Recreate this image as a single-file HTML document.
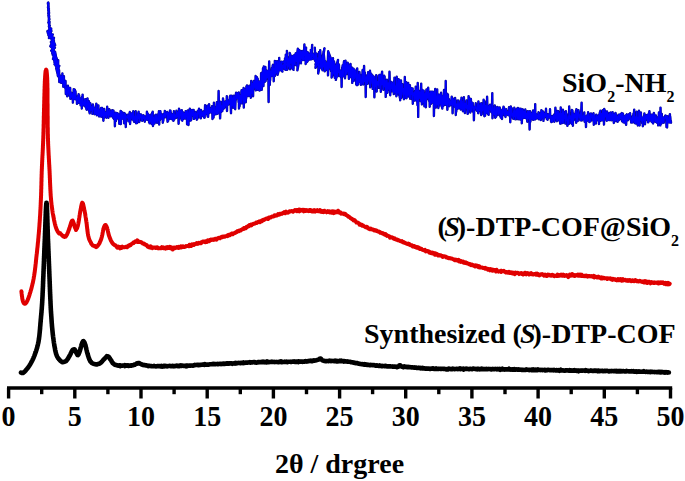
<!DOCTYPE html>
<html><head><meta charset="utf-8"><style>
html,body{margin:0;padding:0;background:#fff;}
body{width:685px;height:481px;overflow:hidden;}
svg{display:block;}
</style></head><body>
<svg width="685" height="481" viewBox="0 0 685 481">
<rect width="685" height="481" fill="#fff"/>
<g stroke="#000" stroke-width="3.4" stroke-linecap="butt" fill="none">
<line x1="7" y1="388" x2="672.2" y2="388"/>
<line x1="8.6" y1="388" x2="8.6" y2="398.5"/><line x1="41.7" y1="388" x2="41.7" y2="394.2"/><line x1="74.8" y1="388" x2="74.8" y2="398.5"/><line x1="107.9" y1="388" x2="107.9" y2="394.2"/><line x1="141.0" y1="388" x2="141.0" y2="398.5"/><line x1="174.1" y1="388" x2="174.1" y2="394.2"/><line x1="207.2" y1="388" x2="207.2" y2="398.5"/><line x1="240.3" y1="388" x2="240.3" y2="394.2"/><line x1="273.4" y1="388" x2="273.4" y2="398.5"/><line x1="306.5" y1="388" x2="306.5" y2="394.2"/><line x1="339.6" y1="388" x2="339.6" y2="398.5"/><line x1="372.6" y1="388" x2="372.6" y2="394.2"/><line x1="405.7" y1="388" x2="405.7" y2="398.5"/><line x1="438.8" y1="388" x2="438.8" y2="394.2"/><line x1="471.9" y1="388" x2="471.9" y2="398.5"/><line x1="505.0" y1="388" x2="505.0" y2="394.2"/><line x1="538.1" y1="388" x2="538.1" y2="398.5"/><line x1="571.2" y1="388" x2="571.2" y2="394.2"/><line x1="604.3" y1="388" x2="604.3" y2="398.5"/><line x1="637.4" y1="388" x2="637.4" y2="394.2"/><line x1="670.5" y1="388" x2="670.5" y2="398.5"/>
</g>
<g font-family="'Liberation Serif', serif" font-weight="bold" font-size="28" text-anchor="middle" fill="#000">
<text transform="translate(8.6 426.0) scale(1 1.035)">0</text><text transform="translate(74.8 426.0) scale(1 1.035)">5</text><text transform="translate(141.0 426.0) scale(1 1.035)">10</text><text transform="translate(207.2 426.0) scale(1 1.035)">15</text><text transform="translate(273.4 426.0) scale(1 1.035)">20</text><text transform="translate(339.6 426.0) scale(1 1.035)">25</text><text transform="translate(405.7 426.0) scale(1 1.035)">30</text><text transform="translate(471.9 426.0) scale(1 1.035)">35</text><text transform="translate(538.1 426.0) scale(1 1.035)">40</text><text transform="translate(604.3 426.0) scale(1 1.035)">45</text><text transform="translate(670.5 426.0) scale(1 1.035)">50</text>
</g>
<text x="339.5" y="472.6" font-family="'Liberation Serif', serif" font-weight="bold" font-size="28" text-anchor="middle">2θ / drgree</text>
<defs><polyline id="bl" points="48.2,2.8 48.2,2.5 48.1,2.7 48.6,3.1 48.6,3.2 48.4,3.3 47.9,3.8 48.5,3.8 47.9,2.9 48.1,3.7 48.4,4.2 48.5,4.1 48.5,4.8 48.2,5.7 48.5,5.6 48.3,4.9 48.3,5.5 48.6,5.9 48.3,5.5 48.3,6.9 48.3,6.7 48.6,6.0 48.5,7.7 48.0,7.2 48.5,7.2 48.6,7.8 48.2,8.6 48.7,8.9 48.9,8.9 48.6,8.4 48.7,9.0 48.5,8.9 48.3,9.6 48.9,9.1 48.3,10.6 49.0,11.0 48.2,9.8 48.7,11.0 48.4,12.1 48.9,12.0 48.7,12.4 49.1,12.8 48.8,13.1 48.3,13.7 49.0,13.6 48.3,13.3 49.0,13.0 48.7,14.7 48.4,15.3 48.9,14.7 48.9,15.3 48.8,15.8 48.7,15.3 49.1,15.7 48.6,16.4 49.2,16.0 48.5,16.4 48.8,16.6 49.2,16.5 49.2,16.6 48.7,17.8 49.2,18.2 49.0,18.1 48.9,18.6 48.9,18.7 49.1,18.8 49.1,19.4 49.4,19.5 48.8,19.4 48.9,20.4 48.9,20.4 49.4,19.2 48.7,20.8 49.1,21.1 48.9,21.6 49.1,21.3 49.6,22.0 48.9,22.0 49.0,22.3 48.3,22.4 49.3,22.3 49.0,23.6 49.3,24.2 48.6,23.5 49.0,24.2 49.4,22.9 49.4,23.7 49.3,24.0 49.2,25.6 49.1,25.3 49.3,25.5 49.1,26.5 49.4,25.8 49.9,25.6 49.4,26.3 49.2,27.0 49.3,27.2 48.9,26.4 49.4,26.9 49.0,26.8 49.6,28.2 49.7,27.5 49.3,27.6 49.5,29.2 49.1,29.4 49.6,28.7 48.9,29.7 49.4,29.1 49.6,29.9 51.2,28.5 50.8,32.6 51.3,30.4 48.9,32.4 49.9,31.4 51.4,31.0 47.4,31.1 47.9,33.1 50.4,31.2 50.1,33.6 50.3,34.5 50.2,34.3 52.0,35.4 49.7,34.5 48.4,31.7 48.4,35.2 49.3,33.8 50.5,33.9 50.1,34.6 52.8,34.5 51.5,36.2 50.7,33.0 50.4,36.8 49.3,34.5 52.2,36.9 51.2,37.2 51.4,34.4 49.6,35.5 52.3,35.8 50.4,35.7 49.7,37.0 50.1,37.9 48.9,38.1 50.8,34.9 52.3,37.7 49.1,37.0 51.9,37.9 52.5,40.0 52.4,39.6 53.2,40.4 52.3,36.5 52.8,41.9 51.5,39.5 54.0,37.8 52.4,44.4 50.9,42.0 54.0,41.1 52.6,42.9 51.0,41.7 52.4,43.3 52.1,42.0 51.0,42.1 53.2,43.0 51.3,41.9 55.2,45.1 53.0,39.8 53.0,44.6 54.2,44.8 52.3,45.2 50.3,46.2 52.8,43.8 53.9,47.8 51.0,44.3 52.9,45.8 52.1,44.3 54.9,47.6 51.3,44.3 54.6,48.1 54.7,48.1 51.8,47.5 50.4,46.3 52.8,48.4 52.1,47.7 53.4,48.7 53.7,48.6 52.6,49.7 53.1,47.5 52.4,49.0 53.0,49.5 53.1,49.7 53.0,47.8 53.7,51.5 53.7,49.8 53.8,48.9 51.2,50.6 52.4,51.9 52.2,47.1 52.3,53.7 53.1,49.5 52.7,52.6 54.2,52.4 55.3,53.4 53.7,53.6 55.6,54.5 55.0,51.6 53.7,54.5 53.6,55.2 54.6,55.2 53.8,57.9 55.4,53.9 54.2,58.4 53.8,56.0 55.3,54.9 52.9,55.4 54.7,57.1 55.2,55.6 55.3,56.7 54.7,56.2 54.2,57.3 53.4,55.6 54.6,54.6 54.1,54.0 53.9,58.1 55.4,57.5 54.5,55.7 56.8,58.8 56.1,57.0 54.7,55.8 55.9,60.2 53.0,59.0 55.8,56.7 53.2,58.0 54.5,57.7 55.3,60.5 56.0,61.4 57.1,62.3 54.0,60.1 54.4,59.5 55.5,61.4 56.2,59.3 54.3,61.9 55.5,61.7 55.8,61.3 56.7,63.2 55.8,61.9 55.8,55.1 55.0,63.6 54.5,64.3 56.4,59.9 56.0,63.3 56.8,66.3 56.3,62.2 56.3,64.8 57.3,66.1 55.8,61.4 56.2,63.5 55.5,65.6 56.2,66.5 57.4,65.2 59.4,65.8 58.1,67.3 58.2,60.1 56.2,68.2 57.8,74.8 57.5,71.9 58.1,71.1 57.9,68.1 57.9,65.6 58.8,66.1 57.8,75.7 57.3,69.7 58.9,70.0 57.7,69.6 57.8,72.0 57.9,70.8 57.9,70.8 58.0,76.2 58.1,76.2 58.1,71.0 58.2,74.8 58.3,69.9 58.3,71.0 58.4,74.1 58.5,73.4 58.6,75.3 58.6,72.6 58.7,74.8 58.8,76.7 58.8,75.8 58.9,70.5 59.0,70.1 59.0,72.2 59.1,70.3 59.2,76.8 59.3,82.0 59.3,77.7 59.4,74.5 59.5,78.1 59.5,75.9 59.6,80.8 59.7,75.3 59.9,78.2 60.0,80.3 60.2,75.7 60.3,81.2 60.5,78.1 60.6,80.7 60.8,81.3 60.9,78.6 61.1,82.9 61.2,76.5 61.4,80.9 61.5,78.9 61.7,80.6 61.8,82.3 62.0,82.5 62.1,80.6 62.3,82.6 62.4,73.5 62.6,83.1 62.7,81.6 62.9,81.2 63.0,77.3 63.2,82.7 63.3,86.7 63.4,79.4 63.6,82.1 63.7,83.8 63.8,79.6 63.9,76.2 64.0,83.3 64.1,79.9 64.2,84.2 64.4,81.5 64.5,83.3 64.6,85.5 64.7,83.8 64.8,82.0 64.9,82.2 65.0,83.5 65.1,87.7 65.3,85.6 65.4,81.8 65.5,81.0 65.6,86.3 65.8,94.0 65.9,90.1 66.0,87.3 66.2,86.9 66.3,91.7 66.5,90.2 66.6,88.3 66.8,89.7 66.9,93.3 67.1,90.6 67.2,96.2 67.3,89.0 67.5,91.1 67.6,92.5 67.8,88.3 67.9,85.7 68.1,92.0 68.2,88.3 68.4,91.5 68.5,91.4 68.7,90.9 68.9,94.4 69.0,87.8 69.2,90.3 69.4,93.1 69.5,96.0 69.7,92.7 69.9,91.1 70.0,95.1 70.2,88.0 70.4,98.7 70.5,93.6 70.7,95.7 70.9,92.4 71.1,93.8 71.3,95.3 71.4,92.8 71.6,97.0 71.8,94.7 72.0,95.1 72.2,94.9 72.3,94.5 72.5,99.8 72.7,93.9 72.9,102.6 73.1,94.8 73.3,92.9 73.5,96.1 73.7,89.1 73.9,98.1 74.1,96.4 74.4,99.1 74.6,95.5 74.8,89.6 75.0,96.9 75.2,96.3 75.5,91.3 75.7,95.8 75.9,99.5 76.1,99.0 76.4,98.3 76.6,98.2 76.8,97.9 77.0,103.9 77.3,97.1 77.5,99.1 77.7,98.8 77.9,96.1 78.1,99.1 78.4,96.2 78.6,94.2 78.8,102.9 79.0,102.8 79.2,95.5 79.4,102.6 79.6,99.3 79.8,101.1 80.0,98.1 80.2,102.3 80.4,100.5 80.6,105.4 80.8,102.9 81.1,102.4 81.3,101.2 81.5,100.2 81.7,103.8 81.8,108.5 82.0,97.0 82.2,105.7 82.4,102.8 82.6,94.6 82.8,100.4 83.0,100.6 83.2,102.9 83.4,104.6 83.5,102.7 83.7,103.2 83.9,104.0 84.1,105.5 84.3,102.2 84.5,103.1 84.7,99.5 84.8,101.4 85.0,102.9 85.2,101.2 85.4,106.7 85.6,103.6 85.8,99.3 86.0,107.7 86.2,106.4 86.5,109.5 86.7,109.7 86.9,103.4 87.1,107.9 87.3,103.3 87.5,98.4 87.8,104.5 88.0,102.2 88.2,104.1 88.4,105.5 88.6,109.9 88.9,101.1 89.1,106.9 89.3,111.8 89.5,112.0 89.7,113.4 90.0,109.3 90.2,103.1 90.4,103.5 90.6,108.0 90.8,110.6 91.0,108.5 91.3,109.7 91.5,106.7 91.7,109.0 91.9,108.8 92.2,107.7 92.4,113.9 92.6,109.8 92.9,104.5 93.1,107.4 93.3,106.0 93.6,107.3 93.8,108.3 94.0,109.3 94.3,109.6 94.5,114.3 94.7,110.8 94.9,112.5 95.2,108.3 95.4,110.1 95.6,113.8 95.9,111.7 96.1,110.5 96.3,103.6 96.6,104.7 96.8,115.2 97.0,115.1 97.3,110.2 97.5,113.9 97.7,110.1 98.0,113.3 98.2,115.2 98.4,105.4 98.6,114.9 98.9,110.1 99.1,116.5 99.3,112.9 99.5,110.2 99.7,111.0 100.0,112.2 100.2,115.7 100.4,109.8 100.6,112.0 100.9,110.3 101.1,108.0 101.3,116.7 101.6,113.1 101.8,111.2 102.1,108.0 102.3,115.6 102.6,109.9 102.8,111.2 103.1,114.8 103.4,120.7 103.6,112.7 103.8,117.1 104.0,111.6 104.2,109.0 104.5,117.5 104.7,116.5 104.9,114.5 105.1,112.3 105.3,113.5 105.6,113.4 105.8,112.1 106.0,115.2 106.2,114.8 106.5,117.7 106.7,115.8 106.9,113.0 107.2,106.8 107.4,109.3 107.7,114.0 107.9,114.6 108.2,111.6 108.4,117.8 108.7,114.1 108.9,112.1 109.2,109.1 109.5,113.9 109.7,114.7 110.0,114.2 110.3,116.0 110.6,116.3 110.8,111.4 111.1,110.6 111.4,114.7 111.7,115.9 111.9,115.0 112.1,114.7 112.4,110.3 112.6,116.2 112.8,116.9 113.0,117.6 113.3,115.2 113.5,110.7 113.7,114.9 114.0,119.1 114.2,113.0 114.4,115.1 114.7,116.7 114.9,126.3 115.2,115.9 115.4,120.5 115.7,112.7 115.9,121.0 116.2,119.1 116.4,113.3 116.7,119.0 117.0,115.2 117.2,117.7 117.5,113.2 117.7,115.0 118.0,117.7 118.3,118.4 118.5,114.2 118.8,118.3 119.0,114.7 119.3,123.9 119.6,117.1 119.8,115.9 120.1,114.9 120.3,118.3 120.6,111.0 120.9,124.1 121.1,111.2 121.4,116.5 121.6,118.7 121.9,117.8 122.1,112.2 122.4,115.9 122.6,118.6 122.9,117.0 123.2,118.8 123.4,116.1 123.7,118.8 123.9,113.0 124.2,123.4 124.4,115.9 124.7,115.9 125.0,116.9 125.2,113.8 125.5,117.8 125.8,127.1 126.0,116.6 126.3,116.7 126.6,116.9 126.8,116.6 127.1,117.2 127.4,114.9 127.7,117.9 127.9,114.7 128.2,117.8 128.5,121.4 128.8,116.0 129.0,115.9 129.3,117.9 129.6,112.8 129.8,112.0 130.1,124.0 130.4,119.0 130.6,117.3 130.9,114.1 131.1,117.1 131.4,113.5 131.6,118.0 131.9,115.5 132.1,115.0 132.4,119.6 132.6,113.5 132.9,112.5 133.1,119.2 133.3,111.2 133.5,118.8 133.8,115.9 134.0,121.8 134.2,118.7 134.4,119.3 134.6,118.9 134.8,119.7 135.0,117.3 135.4,116.2 135.7,111.2 136.1,123.4 136.4,115.9 136.7,118.5 136.9,118.6 137.2,123.0 137.5,119.1 137.7,113.5 138.0,116.4 138.2,118.4 138.4,117.7 138.6,111.6 138.9,118.1 139.1,115.1 139.3,122.0 139.5,114.7 139.7,116.5 140.0,114.5 140.2,117.5 140.4,117.5 140.7,117.5 140.9,114.4 141.1,114.5 141.4,119.7 141.6,120.3 141.8,117.8 142.1,116.0 142.3,120.9 142.5,115.6 142.7,118.3 142.9,117.4 143.1,118.6 143.3,118.1 143.5,115.3 143.8,115.8 144.0,118.5 144.3,117.7 144.5,116.2 144.8,121.7 145.0,118.4 145.3,118.5 145.7,119.2 146.0,118.0 146.3,116.3 146.7,118.5 146.9,111.8 147.1,119.8 147.3,116.0 147.5,119.8 147.7,113.5 147.9,116.9 148.2,118.0 148.4,115.2 148.6,114.6 148.9,117.7 149.1,122.4 149.3,115.2 149.6,123.4 149.8,118.6 150.1,121.9 150.3,117.9 150.6,116.3 150.9,115.5 151.1,119.0 151.4,114.1 151.6,123.8 151.9,124.1 152.2,112.8 152.5,120.6 152.7,111.8 153.0,126.0 153.3,117.1 153.6,119.8 153.8,120.1 154.1,122.1 154.4,123.6 154.7,121.5 154.9,115.7 155.2,122.4 155.5,114.9 155.8,116.9 156.0,114.7 156.3,120.9 156.6,115.5 156.8,120.3 157.1,122.9 157.4,120.2 157.6,120.7 157.9,118.2 158.1,117.7 158.4,113.8 158.7,116.2 158.9,111.2 159.2,124.5 159.4,117.3 159.7,117.2 159.9,120.2 160.2,116.6 160.4,111.3 160.7,118.7 161.0,115.7 161.2,115.6 161.5,113.9 161.7,118.1 162.0,114.6 162.2,118.7 162.5,115.9 162.8,122.8 163.0,116.9 163.3,120.8 163.5,118.0 163.8,114.6 164.0,113.6 164.3,115.0 164.6,115.2 164.8,110.9 165.1,116.9 165.3,117.3 165.6,113.6 165.8,114.2 166.1,113.7 166.3,114.2 166.6,113.1 166.8,114.2 167.1,111.9 167.3,118.1 167.6,121.8 167.8,117.9 168.1,112.9 168.3,120.7 168.6,116.5 168.8,119.1 169.0,112.6 169.3,118.3 169.5,115.1 169.8,116.1 170.0,110.4 170.3,113.3 170.5,110.8 170.8,118.9 171.1,113.2 171.3,116.7 171.6,116.6 171.9,119.2 172.1,115.0 172.4,114.7 172.6,118.0 172.9,114.0 173.1,116.2 173.4,120.9 173.7,117.2 173.9,111.2 174.2,119.5 174.4,118.0 174.7,117.9 174.9,114.9 175.2,116.3 175.4,115.8 175.6,118.0 175.9,116.9 176.1,117.9 176.4,110.8 176.6,112.7 176.9,114.1 177.1,116.4 177.4,112.8 177.6,112.9 177.8,116.9 178.1,116.3 178.3,111.6 178.6,123.7 178.8,114.6 179.0,108.8 179.3,110.2 179.5,114.1 179.8,118.2 180.0,113.6 180.3,111.4 180.5,115.1 180.8,115.3 181.0,110.4 181.3,112.2 181.6,120.0 181.8,110.2 182.1,114.1 182.3,120.7 182.6,117.3 182.9,112.3 183.1,115.4 183.4,112.9 183.6,115.2 183.9,118.8 184.1,115.4 184.4,116.9 184.6,113.4 184.9,115.0 185.1,115.1 185.4,118.5 185.6,111.2 185.9,114.1 186.1,115.2 186.4,116.3 186.6,111.7 186.9,113.3 187.1,124.3 187.4,117.2 187.6,110.8 187.8,110.4 188.1,112.3 188.3,119.7 188.5,125.1 188.7,113.9 189.0,113.8 189.2,119.4 189.5,114.8 189.8,108.6 190.0,116.1 190.3,114.6 190.6,120.6 190.8,115.2 191.1,120.2 191.4,110.1 191.6,112.7 191.9,114.8 192.1,110.0 192.4,112.2 192.6,111.3 192.8,115.9 193.1,115.9 193.3,113.6 193.6,109.9 193.8,118.9 194.1,118.8 194.3,115.2 194.5,114.7 194.8,113.5 195.0,117.8 195.3,111.9 195.5,113.6 195.8,112.1 196.0,115.9 196.2,115.9 196.5,116.2 196.8,119.7 197.0,113.6 197.3,114.0 197.5,118.8 197.8,110.8 198.0,111.9 198.3,113.5 198.5,110.8 198.8,110.6 199.0,108.8 199.3,113.5 199.5,117.3 199.8,114.5 200.0,114.4 200.3,111.0 200.5,111.9 200.8,118.4 201.0,109.9 201.3,112.7 201.5,113.5 201.8,112.3 202.0,113.2 202.3,115.7 202.5,113.1 202.8,115.0 203.0,113.4 203.3,111.5 203.5,116.8 203.8,113.8 204.1,117.6 204.3,112.5 204.6,117.8 204.8,111.9 205.1,105.3 205.3,114.5 205.6,113.0 205.8,113.2 206.1,112.0 206.3,113.8 206.6,108.9 206.8,111.5 207.1,109.9 207.3,105.6 207.6,116.2 207.8,113.4 208.1,116.9 208.3,113.2 208.6,113.7 208.8,105.8 209.1,104.3 209.3,112.0 209.6,112.5 209.8,108.0 210.1,110.5 210.3,110.5 210.6,108.9 210.8,110.4 211.1,112.5 211.3,108.2 211.6,110.4 211.8,109.1 212.0,106.1 212.3,110.2 212.5,119.0 212.7,111.1 213.0,111.9 213.2,111.3 213.5,117.6 213.7,112.6 213.9,102.7 214.2,106.7 214.4,114.9 214.6,113.4 214.9,114.4 215.1,111.8 215.3,111.4 215.6,111.3 215.8,109.9 216.0,107.0 216.3,111.9 216.5,114.1 216.8,102.2 217.0,111.4 217.2,113.9 217.5,105.7 217.7,105.9 217.9,111.1 218.2,113.4 218.4,104.1 218.6,91.0 218.9,106.4 219.1,102.8 219.4,109.7 219.6,110.8 219.9,108.8 220.1,118.4 220.3,114.6 220.6,102.4 220.8,101.8 221.1,112.1 221.3,107.9 221.6,106.0 221.8,111.3 222.1,106.6 222.3,111.1 222.5,105.7 222.8,109.6 223.0,98.4 223.3,100.9 223.5,101.5 223.8,107.1 224.0,108.2 224.2,108.3 224.5,105.9 224.7,107.5 225.0,101.8 225.2,102.4 225.5,104.4 225.7,101.2 225.9,102.0 226.1,105.9 226.4,101.2 226.6,104.7 226.8,96.3 227.0,111.1 227.2,101.4 227.5,104.7 227.7,104.7 227.9,100.1 228.1,102.8 228.4,104.6 228.6,103.7 228.8,101.9 229.0,103.5 229.2,101.2 229.5,100.8 229.7,98.2 229.9,96.5 230.1,102.2 230.3,95.8 230.6,103.8 230.8,108.4 231.0,113.2 231.2,98.1 231.5,99.7 231.7,95.7 231.9,105.5 232.1,98.4 232.3,104.7 232.6,100.4 232.8,105.3 233.0,98.0 233.2,107.7 233.4,98.4 233.7,101.7 233.9,95.7 234.1,95.9 234.3,96.7 234.5,107.6 234.8,101.4 235.0,104.3 235.2,109.3 235.5,101.3 235.7,100.3 235.9,94.1 236.1,92.8 236.4,98.4 236.6,95.7 236.8,96.6 237.0,96.7 237.3,98.2 237.5,93.1 237.7,96.1 237.9,93.4 238.1,98.4 238.3,94.9 238.6,102.2 238.8,92.5 239.0,108.5 239.2,104.5 239.4,103.2 239.6,106.3 239.8,96.3 239.9,95.4 240.1,101.8 240.3,99.1 240.5,102.1 240.8,102.5 241.0,95.5 241.2,96.7 241.4,91.9 241.6,90.2 241.8,103.4 242.0,96.9 242.2,100.0 242.4,91.4 242.6,90.2 242.7,92.5 242.9,95.5 243.1,95.8 243.3,95.3 243.4,96.6 243.6,88.0 243.8,107.6 244.0,93.9 244.2,91.5 244.4,95.2 244.6,101.8 244.8,89.2 245.0,91.3 245.2,93.4 245.4,97.0 245.6,90.8 245.8,102.3 246.0,94.7 246.2,98.6 246.4,86.4 246.6,96.7 246.8,89.9 247.0,85.4 247.2,95.8 247.5,94.7 247.7,86.9 247.9,92.7 248.1,94.4 248.3,88.8 248.5,96.1 248.8,86.4 249.0,95.6 249.2,91.8 249.4,85.7 249.7,88.7 249.9,95.5 250.1,87.6 250.3,91.3 250.6,86.8 250.8,97.7 251.0,93.0 251.2,80.9 251.4,87.4 251.6,83.5 251.7,93.3 251.9,86.0 252.1,92.7 252.3,93.0 252.5,83.4 252.7,84.7 252.9,89.2 253.1,96.3 253.3,83.0 253.4,85.5 253.6,82.9 253.8,80.9 254.0,88.5 254.2,87.3 254.4,84.4 254.6,83.5 254.8,81.2 255.0,85.1 255.2,85.3 255.4,87.2 255.6,76.0 255.8,90.4 256.0,85.9 256.2,82.1 256.3,78.5 256.5,77.4 256.7,79.6 256.9,77.2 257.1,79.3 257.3,88.6 257.5,89.7 257.7,78.8 257.9,87.7 258.1,83.2 258.3,81.4 258.6,83.1 258.8,86.0 259.0,90.2 259.2,81.6 259.4,86.7 259.6,90.6 259.8,81.4 260.0,90.3 260.3,83.6 260.5,81.0 260.7,83.1 260.9,87.5 261.1,73.1 261.3,74.1 261.5,85.1 261.7,89.9 261.9,86.1 262.1,77.0 262.4,72.3 262.6,78.0 262.8,79.8 263.0,68.2 263.2,78.3 263.4,86.1 263.6,80.8 263.8,66.5 264.0,74.9 264.2,78.4 264.4,79.9 264.6,79.3 264.8,81.9 265.0,76.1 265.2,74.5 265.4,66.9 265.6,81.1 265.8,79.2 266.0,75.3 266.2,79.3 266.4,71.2 266.6,73.4 266.8,70.8 267.0,77.5 267.2,74.1 267.4,76.5 267.6,77.5 267.8,74.2 268.0,70.6 268.2,71.0 268.4,76.2 268.6,102.0 268.8,76.0 269.0,69.8 269.2,61.5 269.4,69.4 269.6,74.7 269.8,84.9 270.0,74.6 270.2,80.3 270.4,70.9 270.6,74.2 270.7,74.2 270.9,72.3 271.1,76.0 271.3,75.4 271.5,71.4 271.7,72.3 271.9,68.0 272.0,70.2 272.2,76.1 272.4,73.5 272.6,66.0 272.8,65.2 273.0,64.8 273.2,76.3 273.3,69.0 273.5,68.7 273.7,81.3 273.9,73.0 274.1,74.6 274.5,70.7 273.8,71.0 274.6,69.3 276.0,61.5 275.3,64.4 274.9,76.0 274.3,68.5 275.0,73.2 274.8,60.9 276.5,66.9 275.9,73.3 275.5,66.5 276.8,69.9 276.3,72.7 279.4,65.8 279.2,57.9 279.0,65.8 277.8,65.7 277.2,61.3 277.7,73.0 279.5,65.3 278.0,63.5 277.5,74.9 279.7,67.0 278.7,61.6 280.8,69.8 278.6,70.6 278.7,68.9 279.0,63.9 280.8,67.7 281.6,61.7 282.4,71.6 280.9,67.4 280.3,64.5 279.9,65.5 281.8,71.1 282.8,68.6 281.6,63.7 281.8,65.6 280.4,68.1 281.0,62.0 282.9,61.9 284.9,63.7 285.0,69.4 283.1,65.8 285.2,62.3 284.2,61.2 284.4,62.0 284.6,68.2 286.3,64.1 285.2,67.3 285.0,58.4 286.7,58.9 286.7,58.7 287.9,58.2 287.1,69.8 285.4,69.7 285.8,54.6 287.7,65.9 286.9,50.9 287.3,61.1 287.2,61.1 286.0,59.7 290.0,69.3 288.0,58.8 289.0,66.9 289.6,56.5 289.2,62.4 290.8,67.2 290.1,67.2 289.3,68.6 289.5,63.2 291.2,57.1 289.7,53.0 290.8,60.8 290.5,63.2 288.9,60.7 291.4,59.5 292.4,68.7 291.3,56.1 291.4,60.8 292.9,56.3 293.6,55.4 293.6,62.0 293.5,69.9 292.9,59.0 293.9,63.7 292.2,60.9 293.1,62.4 295.6,59.6 294.2,60.1 291.4,62.7 295.4,59.8 294.6,55.6 295.1,64.5 295.4,65.0 293.0,56.6 296.3,58.5 294.5,55.4 297.8,52.5 295.6,53.3 296.3,61.2 297.8,48.8 298.9,55.3 297.0,65.6 297.8,52.1 297.4,54.4 297.3,56.2 299.5,59.2 297.4,70.4 298.0,58.0 299.3,60.9 299.2,59.4 302.0,57.7 298.9,58.7 299.4,55.4 300.7,58.6 300.5,61.0 300.8,51.0 302.2,55.3 302.8,53.9 302.3,58.4 299.1,50.0 301.0,63.3 300.5,61.0 303.9,59.1 303.7,54.5 303.2,57.8 303.9,60.0 303.5,53.6 303.4,58.7 302.5,51.0 304.0,54.2 304.4,44.5 304.6,55.6 306.1,47.7 305.2,59.0 306.3,62.4 307.1,52.0 306.9,55.3 305.6,64.0 306.1,53.0 306.6,53.0 308.3,58.7 309.0,58.9 307.1,61.9 307.3,54.9 308.1,57.3 309.8,54.4 309.1,57.1 307.7,52.2 309.0,59.2 309.9,59.6 309.8,55.4 310.5,52.9 308.9,56.0 309.0,55.3 310.0,55.2 311.0,54.1 310.8,49.9 311.7,53.9 312.2,44.9 311.2,59.2 309.7,56.5 312.6,58.7 311.2,59.3 313.2,53.8 314.1,58.1 313.5,56.3 314.3,58.9 315.2,60.6 313.6,57.5 315.5,56.9 315.2,61.0 314.8,47.8 315.4,59.6 315.7,55.1 317.1,58.0 315.4,55.3 316.7,53.6 315.5,67.9 318.2,63.5 318.5,61.4 315.5,64.2 318.8,60.9 315.7,64.4 319.5,56.4 318.4,62.3 318.4,63.8 318.8,61.9 319.1,51.9 318.2,73.5 319.8,65.0 321.0,66.9 320.6,56.2 320.2,50.1 320.2,63.4 318.4,60.2 321.8,65.5 320.1,56.4 319.3,54.8 322.1,69.3 320.5,66.3 322.4,57.7 324.5,48.3 322.4,61.3 324.9,68.8 325.3,61.1 324.1,67.0 323.9,62.5 323.3,59.1 322.4,70.2 323.5,51.6 324.5,61.2 324.6,70.0 324.5,60.5 324.1,61.7 324.6,62.9 328.7,64.0 324.6,71.3 326.7,66.2 326.8,66.3 326.9,69.2 327.5,69.0 326.1,62.8 326.1,67.4 328.0,60.9 328.0,75.4 328.9,58.0 327.7,66.3 328.0,65.3 329.5,65.1 327.3,67.0 328.6,64.3 328.3,57.4 327.8,62.3 328.2,51.3 330.9,58.7 329.1,66.7 327.5,70.6 329.5,67.5 330.0,66.0 330.9,64.7 329.1,57.9 331.2,71.5 330.9,67.5 331.9,67.4 333.0,58.2 332.5,64.5 332.1,61.5 331.8,60.8 331.6,77.5 334.8,65.9 334.0,61.5 330.5,57.7 333.8,73.1 333.8,61.8 333.8,62.0 332.7,65.7 334.0,63.1 333.7,62.8 335.1,73.8 334.8,77.9 333.5,68.9 334.2,67.0 335.8,70.5 337.1,65.5 334.8,67.4 336.6,65.1 337.5,76.4 335.2,70.4 338.0,59.9 337.4,68.0 335.9,75.3 337.8,67.1 338.3,72.4 338.9,72.3 338.7,64.2 338.1,70.4 335.8,79.9 339.0,64.8 339.2,71.8 339.5,74.4 339.7,76.1 339.9,70.7 340.2,75.0 340.4,73.6 340.6,70.8 340.9,76.5 341.1,77.4 341.4,71.1 341.6,87.0 341.9,72.7 342.2,68.2 342.4,67.3 342.7,65.1 342.9,65.7 343.2,76.4 343.5,65.6 343.7,63.8 344.0,61.3 344.2,65.7 344.5,69.8 344.8,66.5 345.0,78.3 345.3,74.5 345.5,60.7 345.8,71.3 346.0,63.1 346.3,68.3 346.5,66.6 346.8,74.1 347.0,65.6 347.3,71.7 347.5,71.2 347.7,62.8 348.0,63.9 348.2,69.0 348.5,72.2 348.7,73.8 348.9,78.9 349.2,76.4 349.4,66.5 349.6,65.5 349.8,69.2 350.1,67.9 350.3,76.7 350.5,63.9 350.8,72.4 351.0,73.0 351.2,72.9 351.4,77.5 351.7,68.0 351.9,71.6 352.1,67.8 352.3,82.9 352.5,73.8 352.8,79.8 353.0,70.4 353.2,78.1 353.4,68.6 353.7,80.9 353.9,73.1 354.1,74.1 354.3,69.5 354.5,78.2 354.8,76.1 355.0,71.2 355.2,70.7 355.5,72.3 355.7,76.4 356.0,74.1 356.2,84.5 356.5,80.6 356.7,80.1 357.0,85.3 357.2,68.4 357.5,75.7 357.7,77.9 358.0,84.6 358.2,76.3 358.4,79.6 358.7,80.5 358.9,74.3 359.2,82.0 359.4,71.9 359.7,75.1 359.9,74.7 360.2,76.7 360.4,82.4 360.7,82.1 360.9,84.9 361.2,81.2 361.4,83.3 361.7,80.9 361.9,77.3 362.2,74.4 362.4,75.9 362.6,70.0 362.9,79.7 363.1,84.5 363.3,84.3 363.6,72.9 363.8,76.3 364.1,65.9 364.3,77.5 364.5,81.4 364.8,72.4 365.0,81.7 365.2,80.3 365.5,79.1 365.7,97.0 366.0,82.0 366.2,76.9 366.4,81.9 366.7,79.3 366.9,77.9 367.2,75.1 367.4,83.7 367.6,82.9 367.9,79.9 368.1,72.1 368.3,74.6 368.6,78.4 368.8,74.7 369.1,76.6 369.3,80.3 369.5,81.4 369.8,84.3 370.0,70.8 370.2,87.3 370.5,84.6 370.7,76.8 371.0,78.7 371.2,73.7 371.5,78.1 371.7,76.7 372.0,81.2 372.2,83.4 372.5,75.4 372.7,88.9 373.0,77.6 373.2,78.3 373.5,76.4 373.7,79.5 373.9,80.9 374.2,77.1 374.4,97.3 374.7,80.5 374.9,86.3 375.2,83.2 375.4,81.3 375.7,86.4 375.9,81.8 376.2,75.3 376.4,87.5 376.7,91.6 376.9,81.1 377.2,83.5 377.4,82.4 377.6,83.1 377.8,84.3 378.1,81.6 378.3,85.1 378.5,82.4 378.7,75.8 379.0,87.9 379.2,76.9 379.4,74.9 379.6,75.0 379.9,80.0 380.1,77.4 380.3,78.2 380.5,75.0 380.8,91.8 381.0,78.3 381.2,84.5 381.4,76.5 381.6,84.8 381.9,73.4 382.1,71.6 382.3,80.8 382.5,84.1 382.8,79.8 383.0,85.2 383.2,88.6 383.4,89.8 383.7,79.9 383.9,85.8 384.1,75.7 384.3,86.4 384.6,76.5 384.8,86.7 385.0,80.8 385.2,84.7 385.5,84.3 385.7,96.9 386.0,90.5 386.2,80.8 386.4,86.2 386.7,88.9 386.9,79.7 387.2,83.6 387.4,92.8 387.6,86.4 387.9,83.3 388.1,88.1 388.3,83.0 388.6,83.6 388.8,88.5 389.1,89.7 389.3,83.1 389.5,71.8 389.8,85.6 390.0,89.3 390.2,95.3 390.5,91.4 390.7,84.7 391.0,85.2 391.2,88.4 391.4,82.0 391.7,86.4 391.9,85.9 392.2,85.3 392.4,91.4 392.6,85.9 392.9,83.0 393.1,91.3 393.3,82.8 393.6,87.4 393.8,94.1 394.1,81.3 394.3,87.7 394.5,77.6 394.8,92.0 395.0,88.8 395.2,90.0 395.5,86.3 395.7,92.7 396.0,89.6 396.2,86.7 396.4,96.3 396.7,76.8 396.9,94.9 397.1,86.5 397.4,84.5 397.6,87.4 397.9,85.2 398.1,92.8 398.3,81.4 398.6,79.3 398.8,88.2 399.1,91.2 399.3,95.8 399.5,80.1 399.8,97.8 400.0,85.3 400.2,100.3 400.5,87.5 400.7,90.6 401.0,80.5 401.2,98.0 401.5,94.3 401.7,87.1 401.9,90.8 402.2,86.0 402.4,84.1 402.7,91.4 402.9,89.6 403.2,94.8 403.4,88.8 403.6,97.0 403.9,99.2 404.1,92.9 404.4,94.2 404.6,89.3 404.8,77.0 405.1,88.4 405.3,91.7 405.6,88.8 405.8,97.7 406.0,89.7 406.3,82.2 406.5,98.2 406.8,84.5 407.0,96.8 407.3,95.5 407.5,87.2 407.7,93.7 408.0,90.2 408.2,83.0 408.5,94.7 408.7,87.6 409.0,89.7 409.2,96.8 409.4,85.1 409.7,88.4 409.9,85.2 410.2,98.8 410.4,87.8 410.7,94.4 410.9,90.9 411.1,89.8 411.4,88.3 411.6,94.6 411.9,89.6 412.1,99.1 412.3,97.2 412.6,88.5 412.8,103.7 413.1,93.2 413.3,93.8 413.6,93.3 413.8,95.3 414.0,94.2 414.3,92.5 414.5,94.9 414.8,100.6 415.0,90.9 415.2,92.7 415.5,98.8 415.7,86.8 416.0,94.6 416.2,93.2 416.5,100.6 416.7,97.0 417.0,89.8 417.2,97.9 417.5,105.2 417.7,82.9 418.0,87.9 418.2,116.9 418.4,98.3 418.7,98.7 418.9,90.6 419.2,96.1 419.4,94.3 419.7,98.1 419.9,92.1 420.2,96.3 420.4,94.5 420.7,101.3 420.9,95.0 421.2,83.6 421.4,95.0 421.7,93.7 421.9,104.4 422.2,89.7 422.4,93.8 422.7,97.8 422.9,95.1 423.2,97.0 423.4,102.6 423.7,90.7 423.9,97.9 424.2,97.5 424.4,106.2 424.7,95.3 424.9,97.1 425.2,93.8 425.4,92.9 425.7,96.0 425.9,107.3 426.2,92.3 426.5,89.4 426.7,99.3 427.0,97.7 427.2,92.7 427.5,92.6 427.7,92.4 428.0,97.8 428.2,87.7 428.5,95.0 428.7,96.4 429.0,100.8 429.2,93.4 429.5,97.3 429.7,106.8 430.0,95.0 430.2,95.8 430.5,91.6 430.7,93.8 431.0,103.8 431.2,102.6 431.5,91.8 431.7,101.3 432.0,93.3 432.2,91.9 432.5,102.6 432.7,91.6 433.0,100.8 433.2,97.4 433.5,100.5 433.7,92.1 433.9,116.0 434.2,104.6 434.4,103.5 434.7,98.9 434.9,93.1 435.2,89.0 435.4,97.9 435.7,102.7 435.9,107.6 436.2,105.4 436.4,99.2 436.7,95.9 436.9,100.5 437.2,89.5 437.4,104.5 437.6,94.1 437.9,94.3 438.1,94.7 438.4,108.0 438.6,100.6 438.9,106.0 439.1,99.5 439.4,100.8 439.6,94.6 439.8,100.3 440.1,103.5 440.3,95.4 440.6,97.2 440.8,104.2 441.1,92.7 441.3,97.1 441.6,106.4 441.8,106.8 442.1,97.9 442.3,108.6 442.6,104.1 442.8,95.7 443.0,101.1 443.3,105.9 443.5,96.6 443.8,103.6 444.0,90.0 444.3,102.9 444.5,96.8 444.8,104.7 445.0,98.9 445.2,99.4 445.5,104.3 445.7,81.0 446.0,104.9 446.2,101.5 446.4,93.1 446.7,100.6 446.9,104.2 447.2,103.1 447.4,109.8 447.6,102.3 447.9,94.4 448.1,99.6 448.3,101.2 448.6,99.0 448.8,99.0 449.1,104.5 449.3,106.2 449.5,105.9 449.8,100.6 450.0,103.9 450.2,101.9 450.5,102.9 450.7,102.1 451.0,105.0 451.2,102.5 451.4,100.3 451.7,96.6 451.9,102.8 452.2,103.9 452.4,102.4 452.6,113.3 452.9,100.2 453.1,98.8 453.3,104.6 453.6,104.4 453.8,104.6 454.0,105.0 454.2,102.3 454.5,100.7 454.7,106.4 454.9,105.7 455.1,97.9 455.4,107.7 455.6,99.9 455.8,115.1 456.0,105.2 456.3,111.7 456.5,104.1 456.8,104.8 457.0,107.4 457.2,109.1 457.5,105.3 457.7,108.0 458.0,100.4 458.3,108.4 458.5,105.3 458.8,105.0 459.1,108.3 459.4,104.0 459.7,105.6 460.0,102.2 460.2,107.2 460.4,106.9 460.6,100.4 460.8,109.5 461.1,105.9 461.3,108.9 461.5,97.8 461.8,107.8 462.0,106.8 462.2,101.2 462.5,108.6 462.7,108.3 462.9,111.2 463.2,108.5 463.4,103.9 463.7,106.9 463.9,97.2 464.2,107.5 464.4,107.7 464.7,111.9 464.9,113.0 465.2,104.3 465.5,103.3 465.7,105.6 466.0,106.5 466.2,107.6 466.5,100.5 466.8,108.8 467.0,105.3 467.3,108.5 467.6,113.9 467.8,113.5 468.1,111.7 468.4,106.8 468.6,96.1 468.9,107.7 469.1,101.7 469.4,106.7 469.7,109.5 469.9,98.6 470.2,101.6 470.4,112.5 470.7,100.6 470.9,99.0 471.2,110.6 471.5,107.8 471.7,107.0 471.9,102.4 472.2,106.8 472.4,106.6 472.7,103.0 472.9,107.8 473.2,112.0 473.4,107.0 473.7,111.3 473.9,120.3 474.2,110.3 474.4,106.6 474.7,107.0 474.9,106.8 475.2,107.5 475.4,107.4 475.7,103.3 475.9,108.8 476.2,107.7 476.4,109.3 476.7,110.3 476.9,110.8 477.2,110.0 477.4,108.6 477.7,104.5 477.9,108.8 478.2,113.2 478.4,101.4 478.7,107.0 478.9,108.5 479.2,110.7 479.4,108.3 479.7,110.4 479.9,105.5 480.2,109.7 480.4,103.6 480.7,108.3 480.9,113.0 481.2,115.0 481.4,103.2 481.7,114.4 481.9,105.7 482.2,108.2 482.4,110.8 482.7,107.8 482.9,107.3 483.2,103.6 483.4,109.4 483.6,99.7 483.9,109.3 484.1,112.2 484.4,116.2 484.6,101.2 484.9,112.3 485.1,115.7 485.4,107.1 485.6,105.8 485.9,112.7 486.1,109.4 486.4,111.3 486.6,113.0 486.9,111.6 487.1,96.8 487.4,105.3 487.6,108.2 487.8,105.9 488.1,114.3 488.3,109.9 488.6,114.9 488.8,108.2 489.1,106.1 489.3,105.7 489.6,109.9 489.8,106.9 490.1,104.6 490.3,106.0 490.6,110.0 490.8,110.4 491.0,109.7 491.3,112.2 491.5,109.9 491.8,109.8 492.0,107.8 492.3,93.1 492.5,118.2 492.8,106.8 493.0,107.4 493.3,110.0 493.5,110.3 493.8,112.5 494.0,114.4 494.3,113.1 494.5,112.0 494.8,105.5 495.0,113.6 495.2,117.8 495.5,116.0 495.7,115.0 496.0,111.7 496.2,116.8 496.5,107.7 496.7,109.9 497.0,111.7 497.2,107.0 497.5,109.6 497.7,110.5 498.0,115.0 498.2,114.3 498.5,107.8 498.7,113.4 499.0,110.9 499.2,109.3 499.5,110.0 499.7,107.4 500.0,109.9 500.2,116.3 500.5,112.7 500.7,117.5 501.0,117.6 501.2,110.5 501.5,111.9 501.7,111.0 502.0,119.0 502.2,113.4 502.5,114.9 502.7,109.7 503.0,108.4 503.2,112.2 503.5,106.8 503.7,111.5 504.0,107.4 504.2,115.1 504.5,113.1 504.7,115.5 505.0,113.1 505.2,109.6 505.5,117.0 505.7,111.0 506.0,111.1 506.2,109.3 506.5,114.4 506.7,112.1 507.0,112.7 507.2,114.3 507.5,111.8 507.7,113.7 508.0,115.0 508.2,112.9 508.5,114.3 508.7,115.4 509.0,107.2 509.2,112.1 509.5,113.7 509.8,109.9 510.0,113.8 510.3,122.2 510.5,113.0 510.8,106.5 511.0,117.8 511.3,112.3 511.5,112.4 511.8,108.3 512.0,115.0 512.3,113.1 512.6,113.6 512.8,116.1 513.1,117.5 513.3,118.8 513.6,113.5 513.8,110.6 514.1,116.5 514.3,107.8 514.6,114.4 514.8,109.2 515.1,110.8 515.4,119.4 515.6,111.6 515.9,116.2 516.1,115.6 516.4,115.3 516.6,109.3 516.9,108.7 517.1,119.1 517.4,111.0 517.6,114.1 517.9,107.9 518.1,109.4 518.4,118.3 518.7,110.9 518.9,119.3 519.1,118.0 519.4,108.6 519.6,113.9 519.8,109.2 520.1,119.3 520.3,111.2 520.5,115.4 520.7,108.6 520.9,112.9 521.1,116.4 521.3,120.1 521.6,115.3 521.8,123.3 522.0,116.6 522.2,109.6 522.4,117.9 522.6,109.8 522.8,109.3 523.0,114.2 523.3,111.7 523.5,118.0 523.7,117.3 523.9,111.2 524.1,115.0 524.4,115.5 524.6,117.7 524.9,114.2 525.1,113.2 525.3,109.5 525.6,112.9 525.9,118.2 526.1,117.1 526.4,113.4 526.7,116.8 527.0,116.3 527.3,121.7 527.6,111.2 527.9,118.6 528.2,114.1 528.6,117.9 528.9,111.4 529.3,114.0 529.6,129.5 530.0,111.2 530.2,118.2 530.4,121.8 530.6,117.4 530.8,113.0 531.0,119.1 531.2,115.9 531.4,119.1 531.6,114.2 531.8,118.2 532.0,119.0 532.2,113.3 532.4,113.8 532.7,111.7 532.9,114.8 533.1,110.4 533.3,119.9 533.6,115.3 533.8,119.4 534.0,117.3 534.3,114.2 534.5,115.5 534.7,110.3 535.0,119.5 535.2,104.1 535.4,114.3 535.7,116.5 535.9,114.8 536.2,114.0 536.4,118.6 536.7,115.6 536.9,116.3 537.2,117.5 537.4,115.1 537.7,117.6 537.9,117.5 538.2,118.4 538.5,112.2 538.7,116.2 539.0,119.3 539.2,114.5 539.5,117.1 539.8,118.7 540.0,119.1 540.3,115.2 540.6,112.9 540.8,120.0 541.1,118.8 541.4,110.1 541.6,115.5 541.9,112.9 542.2,113.1 542.4,118.0 542.7,113.2 543.0,111.4 543.3,111.8 543.5,120.9 543.8,114.8 544.1,113.4 544.4,114.4 544.6,117.3 544.9,116.4 545.2,115.4 545.4,113.0 545.7,116.3 546.0,108.7 546.3,114.7 546.5,114.6 546.8,119.1 547.1,116.0 547.3,119.4 547.6,119.8 547.9,114.2 548.2,117.1 548.4,114.6 548.7,117.0 549.0,117.4 549.2,116.5 549.5,117.5 549.8,115.0 550.0,109.3 550.3,117.7 550.6,115.7 550.8,118.3 551.1,121.6 551.4,122.0 551.6,120.1 551.9,117.4 552.1,116.2 552.4,121.6 552.6,117.2 552.9,117.6 553.1,118.3 553.4,119.6 553.7,115.9 553.9,114.6 554.2,118.1 554.4,121.7 554.7,116.4 554.9,118.3 555.2,119.1 555.4,107.7 555.7,114.9 555.9,117.7 556.2,112.4 556.4,114.2 556.7,114.8 556.9,121.2 557.2,110.9 557.4,118.1 557.7,119.5 557.9,119.9 558.2,111.1 558.4,118.4 558.7,113.3 558.9,116.2 559.2,113.3 559.4,120.7 559.7,114.6 559.9,115.8 560.2,123.7 560.4,121.0 560.7,107.5 560.9,116.7 561.2,114.1 561.4,119.0 561.7,113.6 561.9,123.2 562.2,120.4 562.4,116.9 562.7,112.3 562.9,109.7 563.2,122.7 563.4,118.8 563.7,118.2 563.9,111.7 564.2,118.5 564.4,115.7 564.7,115.4 564.9,117.7 565.2,121.3 565.4,123.6 565.7,112.8 565.9,111.2 566.2,114.0 566.4,118.8 566.7,114.1 566.9,120.7 567.2,120.3 567.4,125.9 567.7,119.9 567.9,119.8 568.2,120.1 568.4,117.0 568.7,115.8 568.9,124.1 569.2,106.5 569.4,111.5 569.7,117.6 569.9,118.5 570.2,115.7 570.4,118.2 570.7,118.1 570.9,120.5 571.2,123.1 571.4,116.6 571.7,123.9 571.9,109.9 572.2,110.9 572.4,110.3 572.7,115.3 572.9,125.8 573.2,113.5 573.4,117.0 573.7,120.3 573.9,118.3 574.2,115.7 574.4,114.9 574.7,117.7 574.9,114.0 575.2,116.7 575.4,116.9 575.7,112.2 575.9,111.0 576.2,122.8 576.4,109.1 576.7,112.3 577.0,116.3 577.2,117.3 577.5,115.6 577.7,121.1 578.0,115.4 578.2,113.7 578.5,110.3 578.7,114.8 579.0,114.4 579.3,114.9 579.5,117.8 579.8,116.2 580.0,117.7 580.3,120.4 580.6,114.2 580.8,112.2 581.1,114.3 581.4,108.1 581.6,102.6 581.9,120.5 582.2,120.0 582.4,116.8 582.7,116.8 583.0,116.1 583.3,117.3 583.5,115.3 583.8,119.5 584.1,113.9 584.3,112.4 584.6,121.7 584.9,118.2 585.1,116.4 585.4,118.5 585.7,119.1 586.0,127.1 586.2,116.2 586.5,119.4 586.8,121.1 587.0,118.6 587.3,115.1 587.6,119.2 587.8,120.1 588.1,112.3 588.4,116.5 588.6,116.0 588.9,116.3 589.2,117.0 589.4,122.1 589.7,116.6 590.0,118.0 590.2,113.7 590.5,121.4 590.7,118.4 591.0,113.4 591.3,114.9 591.5,114.3 591.8,115.3 592.0,117.8 592.3,115.1 592.5,120.2 592.8,118.1 593.0,118.9 593.3,115.6 593.5,113.2 593.8,124.8 594.0,121.0 594.3,115.7 594.5,115.7 594.8,120.9 595.0,119.8 595.2,119.0 595.5,120.8 595.7,122.5 595.9,123.5 596.2,114.8 596.4,118.9 596.6,119.5 596.9,116.4 597.1,117.1 597.3,119.9 597.5,117.3 597.7,117.6 598.0,117.9 598.2,115.8 598.4,118.3 598.6,121.2 598.8,114.6 599.0,124.0 599.2,119.0 599.4,119.5 599.6,115.2 599.8,112.5 600.0,114.3 600.4,110.8 600.7,120.7 601.0,118.1 601.4,115.6 601.7,113.7 602.0,120.2 602.2,115.8 602.5,114.9 602.8,110.2 603.0,120.3 603.3,112.9 603.5,116.6 603.8,116.3 604.0,124.6 604.2,108.9 604.4,118.3 604.6,110.4 604.8,111.9 605.0,110.5 605.2,113.1 605.4,116.4 605.6,112.5 605.8,116.6 606.0,113.0 606.2,116.8 606.4,118.5 606.6,120.7 606.8,115.3 607.0,111.5 607.2,120.5 607.4,115.2 607.6,112.8 607.8,120.0 608.1,116.8 608.3,114.8 608.5,116.0 608.8,120.0 609.0,117.8 609.3,119.5 609.5,115.1 609.8,113.0 610.1,120.1 610.4,119.3 610.7,112.4 611.0,116.5 611.3,117.6 611.7,120.2 612.0,117.0 612.4,113.5 612.6,112.1 612.8,117.7 613.0,119.7 613.2,114.7 613.4,119.4 613.6,117.0 613.8,123.0 614.0,114.3 614.2,120.1 614.4,115.2 614.6,116.2 614.8,118.6 615.1,113.8 615.3,120.1 615.5,112.9 615.7,121.1 615.9,117.6 616.2,114.5 616.4,117.7 616.6,118.1 616.9,116.8 617.1,119.6 617.3,117.9 617.6,121.8 617.8,120.3 618.0,118.1 618.3,115.8 618.5,117.4 618.8,114.8 619.0,119.1 619.3,120.0 619.5,117.3 619.8,114.8 620.0,114.5 620.3,118.5 620.5,115.1 620.8,118.7 621.0,117.5 621.3,113.5 621.5,113.5 621.8,113.1 622.1,121.4 622.3,117.7 622.6,114.1 622.9,113.6 623.1,118.6 623.4,122.4 623.6,119.3 623.9,116.4 624.2,122.6 624.4,119.6 624.7,121.1 625.0,119.1 625.3,115.9 625.5,115.4 625.8,121.6 626.1,124.8 626.3,121.9 626.6,115.5 626.9,114.3 627.1,119.4 627.4,115.3 627.7,115.6 628.0,120.3 628.2,115.9 628.5,114.7 628.8,118.7 629.0,114.2 629.3,117.7 629.6,117.0 629.9,115.8 630.1,113.3 630.4,118.5 630.7,119.7 630.9,117.6 631.2,122.6 631.5,119.7 631.8,121.3 632.0,120.4 632.3,120.7 632.6,116.1 632.8,122.5 633.1,118.7 633.4,113.7 633.6,120.0 633.9,114.2 634.2,109.6 634.4,120.7 634.7,121.5 634.9,123.0 635.2,123.2 635.5,117.0 635.7,120.7 636.0,123.5 636.2,122.9 636.5,115.7 636.7,111.6 637.0,116.7 637.2,117.6 637.5,118.7 637.8,125.5 638.0,120.1 638.3,117.3 638.5,120.6 638.8,124.9 639.0,110.8 639.3,116.6 639.6,125.5 639.8,118.3 640.1,119.5 640.3,113.1 640.6,113.9 640.9,112.5 641.1,119.4 641.4,120.7 641.7,117.4 642.0,118.2 642.2,123.2 642.5,119.8 642.8,126.2 643.0,117.4 643.3,118.2 643.6,120.4 643.9,116.0 644.1,117.7 644.4,113.4 644.7,122.4 645.0,124.3 645.3,118.8 645.5,116.1 645.8,118.8 646.1,116.9 646.4,115.1 646.6,118.7 646.9,118.1 647.2,118.4 647.5,120.4 647.7,114.7 648.0,122.4 648.3,122.4 648.6,119.5 648.8,113.5 649.1,114.6 649.4,111.2 649.7,115.1 649.9,120.5 650.2,120.6 650.5,116.0 650.7,116.5 651.0,117.4 651.3,114.8 651.6,119.9 651.8,122.1 652.1,116.8 652.3,114.8 652.6,116.8 652.9,116.7 653.1,123.5 653.4,116.6 653.7,116.0 653.9,112.9 654.2,114.6 654.4,118.4 654.7,117.1 654.9,120.9 655.2,120.0 655.4,121.9 655.7,120.6 655.9,115.5 656.1,119.4 656.4,120.4 656.6,121.4 656.9,122.6 657.1,121.9 657.3,118.9 657.6,119.5 657.8,121.7 658.0,117.3 658.2,125.4 658.5,117.4 658.7,119.4 658.9,112.5 659.1,112.9 659.3,122.6 659.5,115.3 659.7,117.4 659.9,112.6 660.1,114.5 660.3,125.4 660.5,107.6 660.7,114.5 660.9,114.1 661.1,117.2 661.3,123.7 661.5,115.8 661.7,115.0 661.8,113.9 662.0,119.8 662.5,122.2 662.9,122.4 663.3,117.4 663.8,122.7 664.1,118.7 664.5,117.6 664.9,118.0 665.2,115.8 665.6,115.5 665.9,118.9 666.2,116.2 666.5,127.1 666.8,120.1 667.1,127.5 667.3,120.6 667.6,116.1 667.8,119.7 668.1,119.6 668.3,120.0 668.5,122.4 668.7,121.3 668.9,122.2 669.1,120.9 669.3,117.5 669.4,122.5 669.6,119.7 669.8,114.5 669.9,114.2 670.1,121.1 670.2,120.8 670.3,116.8 670.5,120.2 670.6,121.4 670.7,122.4 670.9,121.4 671.0,122.7"/></defs><g fill="none" stroke-linejoin="round" stroke-linecap="round"><use href="#bl" stroke="#0a0a90" stroke-width="2.4"/><use href="#bl" stroke="#0000ff" stroke-width="1.4"/></g>
<polyline points="21.4,291.2 21.4,291.5 21.5,291.9 21.5,292.3 21.6,292.8 21.6,293.3 21.7,293.9 21.8,294.4 21.8,295.1 21.9,295.7 22.0,296.3 22.1,296.9 22.2,297.5 22.2,298.1 22.3,298.6 22.4,299.1 22.5,299.6 22.6,300.0 22.8,300.8 23.0,301.5 23.3,302.1 23.5,302.6 23.8,303.1 24.0,303.4 24.3,303.7 24.6,303.8 24.9,303.8 25.2,303.7 25.5,303.5 25.9,303.1 26.2,302.7 26.6,302.2 26.9,301.5 27.3,300.8 27.5,300.5 27.6,300.1 27.8,299.7 27.9,299.3 28.1,298.9 28.3,298.4 28.4,298.0 28.6,297.5 28.8,297.0 29.0,296.5 29.1,295.9 29.3,295.4 29.5,294.9 29.6,294.3 29.8,293.8 30.0,293.3 30.1,292.7 30.3,292.2 30.5,291.7 30.6,291.2 30.7,290.7 30.9,290.2 31.0,289.8 31.2,289.3 31.3,288.8 31.4,288.3 31.6,287.8 31.7,287.3 31.8,286.8 31.9,286.3 32.1,285.8 32.2,285.3 32.3,284.8 32.4,284.3 32.5,283.8 32.7,283.3 32.8,282.8 32.9,282.3 33.0,281.8 33.1,281.3 33.2,280.8 33.3,280.3 33.4,279.8 33.5,279.3 33.6,278.8 33.7,278.4 33.8,277.9 33.8,277.4 33.9,276.9 34.0,276.4 34.1,276.0 34.2,275.5 34.2,275.0 34.3,274.5 34.4,274.0 34.5,273.5 34.5,273.0 34.6,272.5 34.7,272.0 34.8,271.5 34.8,270.9 34.9,270.4 35.0,269.9 35.0,269.5 35.1,269.0 35.1,268.5 35.2,268.0 35.3,267.6 35.3,267.1 35.4,266.6 35.4,266.1 35.5,265.7 35.5,265.2 35.6,264.7 35.6,264.2 35.7,263.7 35.8,263.1 35.8,262.6 35.9,262.1 35.9,261.5 36.0,261.0 36.0,260.4 36.1,259.8 36.2,259.2 36.2,258.6 36.3,258.0 36.3,257.6 36.4,257.1 36.4,256.7 36.5,256.3 36.5,255.8 36.6,255.3 36.6,254.9 36.7,254.4 36.7,253.9 36.8,253.5 36.9,253.0 36.9,252.5 37.0,252.0 37.0,251.5 37.1,251.0 37.1,250.5 37.2,250.0 37.2,249.5 37.3,249.0 37.3,248.4 37.4,247.9 37.5,247.4 37.5,246.9 37.6,246.4 37.6,245.8 37.7,245.3 37.7,244.8 37.8,244.2 37.8,243.7 37.9,243.2 37.9,242.6 38.0,242.1 38.1,241.6 38.1,241.1 38.2,240.5 38.2,240.0 38.2,239.5 38.3,239.0 38.3,238.6 38.4,238.1 38.4,237.6 38.5,237.1 38.5,236.7 38.5,236.2 38.6,235.7 38.6,235.2 38.7,234.7 38.7,234.2 38.8,233.8 38.8,233.3 38.8,232.8 38.9,232.3 38.9,231.8 39.0,231.3 39.0,230.8 39.0,230.3 39.1,229.8 39.1,229.3 39.2,228.8 39.2,228.3 39.2,227.8 39.3,227.3 39.3,226.8 39.4,226.3 39.4,225.8 39.4,225.3 39.5,224.7 39.5,224.2 39.5,223.7 39.6,223.2 39.6,222.7 39.7,222.1 39.7,221.6 39.7,221.1 39.8,220.5 39.8,220.0 39.8,219.5 39.9,219.1 39.9,218.6 39.9,218.1 39.9,217.7 40.0,217.2 40.0,216.7 40.0,216.2 40.1,215.8 40.1,215.3 40.1,214.8 40.2,214.3 40.2,213.8 40.2,213.3 40.2,212.9 40.3,212.4 40.3,211.9 40.3,211.4 40.3,210.9 40.4,210.4 40.4,209.9 40.4,209.4 40.5,208.9 40.5,208.4 40.5,207.9 40.5,207.4 40.6,206.9 40.6,206.4 40.6,205.9 40.6,205.4 40.7,204.9 40.7,204.4 40.7,203.9 40.7,203.4 40.7,202.8 40.8,202.3 40.8,201.8 40.8,201.3 40.8,200.7 40.9,200.2 40.9,199.7 40.9,199.2 40.9,198.6 41.0,198.1 41.0,197.5 41.0,197.0 41.0,196.5 41.0,196.1 41.1,195.6 41.1,195.1 41.1,194.7 41.1,194.2 41.1,193.7 41.1,193.2 41.1,192.8 41.2,192.3 41.2,191.8 41.2,191.3 41.2,190.8 41.2,190.4 41.2,189.9 41.2,189.4 41.3,188.9 41.3,188.4 41.3,187.9 41.3,187.4 41.3,186.9 41.3,186.4 41.3,185.9 41.4,185.4 41.4,184.9 41.4,184.4 41.4,183.9 41.4,183.4 41.4,182.9 41.4,182.4 41.4,181.9 41.5,181.4 41.5,180.9 41.5,180.4 41.5,179.9 41.5,179.4 41.5,178.9 41.5,178.3 41.5,177.8 41.6,177.3 41.6,176.8 41.6,176.3 41.6,175.8 41.6,175.2 41.6,174.7 41.7,174.2 41.7,173.7 41.7,173.2 41.7,172.6 41.7,172.1 41.7,171.6 41.8,171.1 41.8,170.5 41.8,170.0 41.8,169.5 41.8,169.0 41.9,168.6 41.9,168.1 41.9,167.6 41.9,167.1 41.9,166.6 42.0,166.2 42.0,165.7 42.0,165.2 42.0,164.7 42.1,164.2 42.1,163.7 42.1,163.2 42.1,162.7 42.1,162.2 42.2,161.7 42.2,161.2 42.2,160.7 42.2,160.2 42.3,159.7 42.3,159.2 42.3,158.7 42.3,158.2 42.4,157.7 42.4,157.2 42.4,156.7 42.4,156.2 42.5,155.7 42.5,155.2 42.5,154.7 42.6,154.2 42.6,153.7 42.6,153.2 42.6,152.7 42.7,152.1 42.7,151.6 42.7,151.1 42.7,150.6 42.8,150.1 42.8,149.6 42.8,149.1 42.8,148.6 42.9,148.1 42.9,147.6 42.9,147.1 42.9,146.6 42.9,146.0 43.0,145.5 43.0,145.0 43.0,144.5 43.0,144.0 43.1,143.5 43.1,143.0 43.1,142.5 43.1,142.0 43.1,141.5 43.2,141.0 43.2,140.5 43.2,140.0 43.2,139.5 43.2,139.0 43.3,138.5 43.3,138.0 43.3,137.5 43.3,137.0 43.3,136.5 43.3,136.0 43.4,135.5 43.4,134.9 43.4,134.4 43.4,133.9 43.4,133.4 43.4,132.9 43.4,132.4 43.5,131.9 43.5,131.4 43.5,130.8 43.5,130.3 43.5,129.8 43.5,129.3 43.5,128.8 43.6,128.3 43.6,127.8 43.6,127.2 43.6,126.7 43.6,126.2 43.6,125.7 43.6,125.2 43.6,124.7 43.7,124.2 43.7,123.7 43.7,123.2 43.7,122.7 43.7,122.1 43.7,121.6 43.7,121.1 43.7,120.6 43.8,120.1 43.8,119.6 43.8,119.1 43.8,118.6 43.8,118.1 43.8,117.6 43.8,117.1 43.8,116.7 43.8,116.2 43.9,115.7 43.9,115.2 43.9,114.7 43.9,114.2 43.9,113.7 43.9,113.3 43.9,112.8 43.9,112.3 44.0,111.9 44.0,111.4 44.0,110.9 44.0,110.5 44.0,110.0 44.0,109.4 44.0,108.9 44.0,108.3 44.1,107.8 44.1,107.2 44.1,106.7 44.1,106.1 44.1,105.6 44.1,105.0 44.1,104.5 44.2,103.9 44.2,103.4 44.2,102.8 44.2,102.3 44.2,101.7 44.2,101.2 44.2,100.6 44.3,100.1 44.3,99.6 44.3,99.0 44.3,98.5 44.3,98.0 44.3,97.4 44.3,96.9 44.4,96.4 44.4,95.9 44.4,95.3 44.4,94.8 44.4,94.3 44.4,93.8 44.4,93.3 44.5,92.8 44.5,92.3 44.5,91.9 44.5,91.4 44.5,90.9 44.5,90.4 44.5,90.0 44.5,89.5 44.6,89.1 44.6,88.6 44.6,88.2 44.6,87.8 44.6,87.4 44.6,87.0 44.6,86.5 44.7,86.1 44.7,85.8 44.7,85.4 44.7,85.0 44.7,84.2 44.8,83.5 44.8,82.8 44.8,82.1 44.8,81.5 44.9,80.9 44.9,80.3 44.9,79.7 45.0,79.2 45.0,78.6 45.0,78.1 45.1,77.6 45.1,77.2 45.1,76.7 45.1,76.3 45.2,75.9 45.2,75.5 45.2,75.1 45.3,74.7 45.3,74.4 45.3,74.0 45.3,73.7 45.4,73.3 45.4,73.0 45.5,71.9 45.6,71.0 45.8,70.3 45.9,69.9 46.0,69.7 46.1,69.6 46.2,69.7 46.3,69.9 46.5,70.3 46.6,71.0 46.7,71.9 46.8,73.0 46.8,73.3 46.9,73.7 46.9,74.0 46.9,74.4 46.9,74.7 47.0,75.1 47.0,75.5 47.0,75.9 47.0,76.3 47.1,76.7 47.1,77.2 47.1,77.7 47.2,78.1 47.2,78.6 47.2,79.2 47.2,79.7 47.3,80.3 47.3,80.9 47.3,81.5 47.3,82.1 47.3,82.8 47.4,83.5 47.4,84.2 47.4,85.0 47.4,85.4 47.4,85.8 47.4,86.1 47.4,86.5 47.4,87.0 47.4,87.4 47.4,87.8 47.5,88.2 47.5,88.6 47.5,89.1 47.5,89.5 47.5,90.0 47.5,90.4 47.5,90.9 47.5,91.4 47.5,91.9 47.5,92.3 47.5,92.8 47.5,93.3 47.5,93.8 47.5,94.3 47.5,94.8 47.5,95.3 47.5,95.9 47.5,96.4 47.5,96.9 47.5,97.4 47.5,98.0 47.5,98.5 47.5,99.0 47.5,99.6 47.5,100.1 47.5,100.6 47.5,101.2 47.5,101.7 47.5,102.3 47.5,102.8 47.5,103.4 47.6,103.9 47.6,104.5 47.6,105.0 47.6,105.6 47.6,106.1 47.6,106.7 47.6,107.2 47.6,107.8 47.6,108.3 47.6,108.9 47.6,109.4 47.6,110.0 47.6,110.5 47.6,110.9 47.6,111.4 47.6,111.9 47.6,112.3 47.6,112.8 47.6,113.3 47.6,113.7 47.6,114.2 47.6,114.7 47.6,115.2 47.6,115.7 47.7,116.2 47.7,116.7 47.7,117.1 47.7,117.6 47.7,118.1 47.7,118.6 47.7,119.1 47.7,119.6 47.7,120.1 47.7,120.6 47.7,121.1 47.7,121.6 47.7,122.1 47.7,122.7 47.7,123.2 47.7,123.7 47.7,124.2 47.7,124.7 47.7,125.2 47.7,125.7 47.7,126.2 47.7,126.7 47.7,127.2 47.8,127.8 47.8,128.3 47.8,128.8 47.8,129.3 47.8,129.8 47.8,130.3 47.8,130.8 47.8,131.4 47.8,131.9 47.8,132.4 47.8,132.9 47.8,133.4 47.8,133.9 47.9,134.4 47.9,134.9 47.9,135.5 47.9,136.0 47.9,136.5 47.9,137.0 47.9,137.5 47.9,138.0 48.0,138.5 48.0,139.0 48.0,139.5 48.0,140.0 48.0,140.5 48.0,141.0 48.1,141.5 48.1,142.0 48.1,142.5 48.1,143.0 48.1,143.5 48.1,144.0 48.2,144.5 48.2,145.1 48.2,145.6 48.2,146.1 48.3,146.6 48.3,147.1 48.3,147.6 48.3,148.1 48.4,148.6 48.4,149.2 48.4,149.7 48.4,150.2 48.5,150.7 48.5,151.2 48.5,151.7 48.5,152.2 48.6,152.8 48.6,153.3 48.6,153.8 48.6,154.3 48.7,154.8 48.7,155.3 48.7,155.8 48.8,156.3 48.8,156.8 48.8,157.3 48.8,157.9 48.9,158.4 48.9,158.9 48.9,159.4 49.0,159.9 49.0,160.4 49.0,160.9 49.0,161.4 49.1,161.9 49.1,162.4 49.1,162.9 49.1,163.3 49.2,163.8 49.2,164.3 49.2,164.8 49.3,165.3 49.3,165.8 49.3,166.3 49.3,166.7 49.4,167.2 49.4,167.7 49.4,168.1 49.4,168.6 49.5,169.1 49.5,169.5 49.5,170.0 49.5,170.5 49.6,171.1 49.6,171.6 49.6,172.2 49.6,172.7 49.7,173.3 49.7,173.8 49.7,174.4 49.7,174.9 49.8,175.5 49.8,176.0 49.8,176.6 49.8,177.1 49.8,177.6 49.9,178.2 49.9,178.7 49.9,179.3 49.9,179.8 50.0,180.3 50.0,180.8 50.0,181.4 50.0,181.9 50.0,182.4 50.1,182.9 50.1,183.4 50.1,183.9 50.1,184.5 50.2,185.0 50.2,185.5 50.2,186.0 50.2,186.5 50.3,186.9 50.3,187.4 50.3,187.9 50.3,188.4 50.3,188.9 50.4,189.3 50.4,189.8 50.4,190.3 50.4,190.7 50.5,191.2 50.5,191.6 50.5,192.1 50.5,192.5 50.6,192.9 50.6,193.4 50.6,193.8 50.6,194.2 50.7,194.6 50.7,195.0 50.7,195.7 50.8,196.3 50.8,196.9 50.9,197.5 50.9,198.1 51.0,198.7 51.0,199.2 51.1,199.8 51.1,200.3 51.2,200.9 51.2,201.4 51.3,201.9 51.3,202.4 51.4,202.8 51.4,203.3 51.5,203.8 51.5,204.2 51.6,204.7 51.7,205.1 51.7,205.6 51.8,206.0 51.8,206.5 51.9,206.9 51.9,207.4 52.0,207.8 52.1,208.2 52.1,208.7 52.2,209.1 52.2,209.6 52.3,210.0 52.4,210.6 52.5,211.1 52.5,211.7 52.6,212.2 52.7,212.8 52.8,213.3 52.9,213.9 53.0,214.4 53.1,214.9 53.2,215.5 53.3,216.0 53.4,216.5 53.5,217.0 53.6,217.5 53.7,218.0 53.8,218.5 53.9,219.0 53.9,219.4 54.0,219.9 54.1,220.3 54.2,220.8 54.3,221.2 54.4,221.6 54.5,222.0 54.6,222.7 54.8,223.3 54.9,223.9 55.1,224.4 55.2,225.0 55.3,225.5 55.5,226.0 55.6,226.4 55.8,226.9 55.9,227.3 56.0,227.8 56.2,228.2 56.3,228.6 56.5,229.0 56.7,229.6 57.0,230.1 57.3,230.7 57.5,231.2 57.8,231.7 58.1,232.1 58.3,232.6 58.6,232.9 58.8,233.2 59.0,233.5 59.4,233.6 60.0,233.0 60.3,233.8 60.7,234.2 61.1,234.3 61.6,234.6 62.1,235.3 62.6,235.8 63.1,236.3 63.5,236.0 63.9,236.0 64.5,237.0 65.1,236.7 65.6,236.6 66.1,236.0 66.6,235.2 66.8,234.8 67.0,234.8 67.2,234.1 67.4,233.6 67.6,233.1 67.8,232.7 68.0,232.2 68.2,231.6 68.4,231.1 68.6,230.6 68.8,230.1 69.0,229.6 69.2,229.0 69.4,228.4 69.5,228.0 69.7,227.3 69.9,226.9 70.0,226.2 70.2,225.8 70.4,225.2 70.5,224.7 70.7,224.4 70.8,223.7 70.9,223.3 71.1,222.7 71.2,222.5 71.6,221.7 71.9,221.0 72.2,220.7 72.5,220.6 72.7,220.6 72.9,221.2 73.2,221.6 73.4,222.5 73.6,222.9 73.8,223.6 74.0,224.0 74.1,224.6 74.2,225.0 74.4,225.6 74.5,226.1 74.6,226.7 74.8,227.1 75.0,227.6 75.3,228.1 75.5,228.8 75.8,229.2 76.0,230.0 76.3,229.1 76.6,229.0 77.0,228.4 77.3,227.5 77.4,227.2 77.5,226.8 77.6,226.4 77.8,225.9 77.9,225.5 78.0,225.1 78.1,224.7 78.2,224.1 78.3,223.4 78.5,222.8 78.6,222.0 78.7,221.6 78.7,221.2 78.8,220.8 78.9,220.3 79.0,219.7 79.1,219.3 79.1,218.8 79.2,218.2 79.3,217.7 79.4,217.1 79.5,216.6 79.5,216.1 79.6,215.4 79.7,214.9 79.8,214.3 79.9,213.7 80.0,213.2 80.1,212.7 80.1,212.3 80.2,211.7 80.3,211.2 80.4,210.9 80.5,210.2 80.6,209.6 80.7,209.0 80.9,208.2 81.0,207.5 81.1,206.9 81.2,206.3 81.3,205.8 81.5,205.3 81.6,204.6 81.7,204.2 81.8,203.8 81.9,203.4 82.1,202.9 82.2,203.1 82.3,203.7 82.5,203.2 82.6,202.9 82.8,203.3 82.9,203.7 83.1,204.3 83.2,204.7 83.4,205.3 83.5,206.0 83.7,206.6 83.8,207.4 84.0,208.0 84.1,208.8 84.3,209.5 84.4,210.0 84.5,210.4 84.6,210.8 84.6,211.1 84.7,211.6 84.8,212.1 84.9,212.6 85.0,213.1 85.1,213.6 85.2,214.1 85.3,214.6 85.3,215.1 85.4,215.7 85.5,216.2 85.6,216.8 85.7,217.3 85.8,217.9 85.9,218.4 86.0,219.1 86.0,219.6 86.1,220.1 86.2,220.7 86.3,221.3 86.4,221.8 86.4,222.2 86.5,222.8 86.6,223.2 86.6,223.7 86.7,224.2 86.8,224.8 86.8,225.3 86.9,225.8 86.9,226.4 87.0,226.9 87.1,227.6 87.1,228.1 87.2,228.6 87.3,229.2 87.3,229.7 87.4,230.3 87.5,230.7 87.5,231.3 87.6,231.8 87.7,232.3 87.7,232.9 87.8,233.4 87.9,233.8 88.0,234.2 88.0,234.8 88.1,235.2 88.2,235.5 88.3,236.0 88.5,236.6 88.6,237.3 88.8,237.9 89.0,238.7 89.2,239.2 89.4,239.8 89.6,240.2 89.8,240.6 90.0,241.0 90.2,241.5 90.5,241.8 90.7,242.2 90.9,242.8 91.1,243.3 91.3,243.6 91.5,244.0 91.9,244.4 92.3,244.8 92.7,245.4 93.1,245.6 93.6,245.7 94.0,245.7 94.4,245.9 94.8,246.5 95.3,246.7 95.7,246.4 96.2,247.1 96.7,246.5 97.2,246.3 97.6,246.0 98.1,245.2 98.3,244.7 98.5,244.8 98.8,244.2 99.0,244.1 99.2,243.6 99.5,243.2 99.7,242.7 99.9,241.9 100.2,241.7 100.4,241.1 100.6,240.5 100.8,240.0 101.0,239.6 101.2,239.0 101.4,238.5 101.5,237.8 101.7,237.5 101.8,236.9 101.9,236.5 102.0,236.0 102.2,235.4 102.3,234.9 102.4,234.4 102.5,233.8 102.6,233.2 102.7,232.6 102.8,232.1 102.9,231.7 103.0,231.1 103.1,230.6 103.2,230.1 103.3,229.7 103.4,229.3 103.5,228.8 103.6,228.5 103.9,227.5 104.1,226.8 104.4,226.4 104.6,225.8 104.8,225.4 105.1,225.1 105.3,225.0 105.6,225.1 105.8,225.1 106.1,225.7 106.4,226.2 106.7,226.9 107.0,227.7 107.1,228.1 107.2,228.5 107.4,229.1 107.5,229.3 107.6,230.0 107.7,230.5 107.9,231.0 108.0,231.6 108.1,232.3 108.3,232.8 108.4,233.3 108.5,233.9 108.7,234.5 108.8,235.1 109.0,235.5 109.1,235.9 109.3,236.4 109.5,236.9 109.7,237.4 109.9,238.1 110.1,238.6 110.3,239.0 110.5,239.6 110.7,239.9 110.9,240.5 111.1,241.0 111.3,241.2 111.6,241.6 111.8,242.0 112.1,242.7 112.3,243.1 112.6,243.1 113.0,243.9 113.4,244.1 113.8,244.4 114.2,244.8 114.6,245.2 115.1,245.1 115.5,245.6 116.0,245.8 116.5,246.5 116.9,247.2 117.4,247.6 117.8,246.9 118.3,246.6 118.8,247.2 119.4,247.0 119.9,248.4 120.4,247.8 120.9,247.1 121.4,248.0 122.0,247.7 122.5,246.7 123.0,247.1 123.5,247.2 124.1,247.3 124.6,247.3 125.1,247.0 125.6,247.1 126.2,246.7 126.7,246.5 127.2,247.1 127.8,246.5 128.3,246.3 128.7,245.6 129.2,245.7 129.7,245.6 130.1,244.8 130.6,245.0 131.1,244.3 131.5,244.2 132.0,243.7 132.4,243.5 132.8,243.4 133.2,242.7 133.6,243.0 134.2,242.1 134.7,241.7 135.1,241.9 135.5,241.2 135.9,241.2 136.4,241.6 136.9,241.9 137.4,240.4 137.8,241.5 138.3,242.1 138.8,242.0 139.3,241.7 139.9,241.7 140.4,242.1 141.0,242.0 141.5,242.5 142.0,242.8 142.4,243.0 142.9,243.6 143.4,243.5 143.9,243.5 144.4,244.4 144.9,244.1 145.4,244.6 145.9,244.9 146.3,245.1 146.7,245.1 147.2,245.7 147.5,246.4 147.8,246.2 148.1,246.5 148.5,247.1 149.1,247.3 150.0,247.5 150.3,247.6 150.7,246.4 151.1,247.0 151.5,247.4 152.0,247.7 152.5,248.1 152.9,247.7 153.5,247.4 154.0,247.6 154.5,247.5 155.1,247.7 155.6,248.0 156.2,247.5 156.8,247.3 157.3,247.3 157.9,248.3 158.5,248.4 159.1,248.3 159.7,248.2 160.2,248.2 160.8,247.8 161.4,248.1 161.9,247.2 162.4,247.7 162.9,247.4 163.4,248.2 163.9,247.5 164.4,247.8 164.9,248.0 165.5,248.6 166.0,247.4 166.5,247.3 167.0,248.2 167.6,247.2 168.1,248.0 168.6,247.5 169.2,247.7 169.7,246.8 170.2,248.1 170.7,247.5 171.2,247.3 171.8,248.8 172.2,248.1 172.7,249.5 173.2,247.9 173.7,247.5 174.1,247.7 174.6,248.4 175.0,247.6 175.6,247.8 176.2,247.8 176.8,247.1 177.3,247.6 177.8,247.2 178.3,246.8 178.8,247.9 179.3,247.7 179.8,247.4 180.2,246.9 180.7,246.4 181.2,247.5 181.7,247.2 182.2,246.4 182.7,247.0 183.2,246.4 183.8,246.9 184.3,246.9 184.7,246.9 185.2,246.7 185.7,246.6 186.1,246.0 186.6,246.2 187.1,246.0 187.6,246.0 188.1,246.1 188.6,246.1 189.1,246.3 189.6,244.7 190.1,245.6 190.6,245.3 191.2,246.0 191.7,245.4 192.2,244.4 192.7,245.0 193.2,244.5 193.7,244.9 194.2,244.0 194.7,244.3 195.2,244.1 195.7,244.0 196.2,243.7 196.7,243.1 197.2,243.8 197.7,243.9 198.2,243.4 198.7,242.9 199.2,243.2 199.7,243.2 200.2,242.8 200.7,242.7 201.2,243.1 201.7,242.0 202.2,242.1 202.7,241.5 203.2,241.8 203.7,241.6 204.2,241.4 204.7,241.4 205.2,242.2 205.7,241.3 206.2,241.2 206.7,242.0 207.2,241.0 207.7,240.3 208.2,241.0 208.7,240.3 209.2,241.2 209.7,240.0 210.2,240.1 210.7,239.6 211.1,240.2 211.6,239.6 212.1,239.9 212.6,239.6 213.1,239.4 213.6,239.9 214.1,239.8 214.6,239.3 215.1,238.9 215.6,238.7 216.1,239.0 216.6,239.7 217.1,238.5 217.6,238.3 218.1,238.1 218.6,237.9 219.1,237.8 219.6,237.9 220.1,238.3 220.6,237.7 221.1,237.4 221.6,236.8 222.1,237.3 222.6,237.1 223.1,236.5 223.6,236.4 224.1,236.6 224.6,236.8 225.1,236.5 225.6,236.2 226.1,235.9 226.6,235.9 227.1,235.7 227.6,236.2 228.1,235.0 228.6,235.0 229.0,235.4 229.5,234.7 230.0,235.1 230.4,234.4 230.9,234.3 231.4,234.0 231.9,233.5 232.3,233.4 232.8,234.2 233.3,233.5 233.8,233.3 234.2,233.2 234.7,232.9 235.2,232.9 235.7,232.3 236.1,232.1 236.6,232.2 237.1,231.6 237.5,231.1 238.0,231.2 238.5,230.9 239.0,231.1 239.4,230.5 239.9,230.2 240.3,230.2 240.8,230.5 241.2,229.8 241.7,229.6 242.2,229.3 242.6,229.2 243.1,229.1 243.5,229.0 244.0,228.0 244.5,228.5 244.9,227.9 245.4,227.6 245.8,228.1 246.3,227.2 246.8,227.5 247.2,227.0 247.7,226.3 248.1,226.5 248.6,226.3 249.0,225.9 249.5,225.0 250.0,225.4 250.5,225.2 250.9,224.7 251.4,225.4 251.9,224.6 252.3,224.4 252.8,224.2 253.3,223.9 253.8,223.7 254.2,223.7 254.7,223.6 255.2,223.2 255.7,223.1 256.1,222.5 256.6,223.0 257.1,222.4 257.6,222.5 258.0,222.0 258.5,221.9 259.0,221.9 259.4,221.3 259.9,222.2 260.4,221.3 260.9,221.1 261.4,220.7 261.8,221.2 262.3,220.9 262.8,220.4 263.3,219.7 263.7,219.8 264.2,219.9 264.7,219.4 265.2,219.0 265.7,218.8 266.1,218.7 266.6,218.7 267.1,218.3 267.6,218.4 268.1,219.0 268.5,218.5 269.0,217.5 269.5,217.7 270.0,217.4 270.4,217.2 270.9,217.4 271.4,216.8 271.9,216.6 272.4,216.4 272.9,216.4 273.4,216.6 273.9,216.3 274.5,215.4 275.0,215.6 275.5,215.3 276.0,215.7 276.5,215.3 277.1,215.4 277.6,214.9 278.1,214.1 278.6,214.8 279.1,214.6 279.6,214.6 280.0,213.8 280.5,214.1 281.0,213.7 281.4,213.6 281.9,213.8 282.3,213.7 282.9,213.1 283.5,212.7 284.1,212.2 284.6,212.7 285.2,213.2 285.7,212.6 286.2,211.7 286.7,212.1 287.2,212.4 287.7,212.8 288.2,212.5 288.6,212.1 289.1,211.9 289.5,211.3 290.0,211.4 290.6,211.4 291.1,211.1 291.6,211.3 292.1,211.0 292.6,211.2 293.1,211.6 293.6,211.2 294.1,211.0 294.5,210.7 295.0,210.0 295.5,210.6 296.0,210.8 296.5,210.1 297.0,211.1 297.5,210.3 297.9,210.6 298.4,210.2 298.9,209.7 299.4,211.4 299.9,209.7 300.5,210.8 301.2,210.0 301.9,210.5 302.3,209.9 302.7,210.1 303.2,210.8 303.7,211.3 304.1,209.9 304.6,210.4 305.2,210.9 305.7,210.1 306.2,210.8 306.8,210.1 307.3,210.8 307.9,210.8 308.4,211.2 309.0,210.8 309.5,210.0 310.1,211.0 310.6,210.1 311.2,211.1 311.7,211.5 312.3,211.1 312.8,210.5 313.3,211.4 313.8,210.9 314.3,210.2 314.8,210.7 315.3,211.6 315.9,210.8 316.4,211.0 316.9,210.8 317.4,210.2 317.9,210.8 318.4,211.3 318.9,211.2 319.5,211.0 320.0,210.1 320.5,211.8 321.0,211.6 321.4,211.7 321.9,211.9 322.4,211.1 322.9,211.0 323.3,211.5 323.8,212.2 324.4,210.7 325.0,211.4 325.5,211.2 326.1,211.9 326.6,212.3 327.2,211.6 327.7,211.2 328.2,211.9 328.7,211.8 329.3,211.3 329.8,212.4 330.2,211.9 330.7,212.5 331.2,211.6 331.7,212.7 332.1,211.6 332.6,212.8 333.2,211.4 333.7,213.1 334.3,212.1 334.8,211.5 335.3,212.1 335.7,212.4 336.2,211.7 336.7,211.9 337.2,212.3 337.6,212.1 338.1,210.7 338.6,212.0 339.1,212.5 339.6,212.5 340.0,212.9 340.5,212.4 341.0,213.6 341.4,213.2 341.9,213.2 342.4,213.6 342.9,213.7 343.3,213.6 343.8,213.6 344.3,214.3 344.8,214.4 345.2,213.9 345.7,214.4 346.1,215.1 346.6,215.2 347.0,215.5 347.5,215.9 347.9,216.1 348.3,216.7 348.8,216.5 349.2,216.8 349.7,217.3 350.1,217.7 350.5,218.1 351.0,218.5 351.4,218.4 351.9,219.1 352.3,219.2 352.7,219.2 353.2,219.7 353.6,220.5 354.0,220.5 354.4,220.5 354.8,220.3 355.2,221.0 355.6,221.3 356.0,221.8 356.5,222.6 356.9,222.5 357.4,222.7 357.8,222.7 358.3,222.9 358.8,223.4 359.2,223.6 359.6,224.7 360.0,224.1 360.5,224.3 360.9,225.0 361.3,224.9 361.8,224.8 362.2,225.7 362.7,225.5 363.2,225.4 363.6,226.1 364.1,226.4 364.6,226.4 365.1,226.9 365.6,227.2 366.1,226.9 366.6,226.8 367.1,226.9 367.6,227.8 368.0,228.4 368.5,228.5 368.9,228.8 369.4,229.1 369.8,228.6 370.3,229.1 370.8,228.5 371.2,229.3 371.7,229.4 372.2,229.4 372.7,229.4 373.2,229.4 373.6,229.9 374.1,230.5 374.6,230.1 375.1,230.5 375.6,230.3 376.1,230.8 376.6,230.6 377.1,231.2 377.5,231.2 378.0,231.5 378.5,231.4 379.0,231.4 379.4,231.9 379.9,232.5 380.3,232.8 380.8,232.5 381.2,233.0 381.7,233.2 382.2,233.3 382.6,233.0 383.1,233.7 383.5,233.6 384.0,234.4 384.5,234.5 384.9,234.7 385.4,234.0 385.8,235.1 386.3,235.3 386.8,235.0 387.2,235.9 387.7,235.8 388.1,235.9 388.6,236.0 389.0,236.1 389.5,236.5 390.0,237.7 390.5,237.1 390.9,237.3 391.4,237.2 391.9,237.4 392.3,237.6 392.8,237.7 393.3,238.4 393.8,238.3 394.2,238.8 394.7,238.4 395.2,239.2 395.7,239.1 396.1,239.5 396.6,239.5 397.1,239.4 397.6,240.2 398.0,239.9 398.5,240.2 399.0,240.2 399.4,240.7 399.9,240.7 400.4,241.1 400.9,241.3 401.4,241.2 401.8,241.1 402.3,241.9 402.8,242.2 403.3,242.4 403.7,242.0 404.2,242.7 404.7,242.9 405.2,243.0 405.7,243.3 406.1,243.2 406.6,243.6 407.1,244.0 407.6,243.7 408.1,243.6 408.5,244.2 409.0,244.5 409.5,244.1 410.0,244.6 410.4,245.2 410.9,245.2 411.4,245.4 411.9,245.2 412.4,246.1 412.8,246.5 413.3,246.1 413.8,246.1 414.3,246.1 414.8,247.0 415.3,246.9 415.8,246.8 416.3,247.6 416.8,247.7 417.3,247.8 417.8,247.2 418.3,247.9 418.7,248.3 419.2,247.9 419.7,248.7 420.1,249.1 420.6,249.1 421.0,248.7 421.5,248.9 421.9,249.6 422.3,249.7 422.9,250.0 423.4,250.2 423.9,250.0 424.4,250.0 424.9,249.8 425.4,250.8 425.8,251.4 426.3,250.7 426.7,250.9 427.2,251.4 427.7,251.5 428.1,251.1 428.6,251.4 429.1,251.5 429.6,252.7 430.2,252.0 430.6,252.6 431.1,253.1 431.5,253.3 432.0,253.3 432.5,253.5 432.9,252.7 433.4,253.1 433.9,253.1 434.4,253.5 434.9,254.6 435.4,253.3 435.9,254.2 436.4,253.8 436.9,254.8 437.4,254.9 437.9,254.5 438.4,255.5 438.9,255.0 439.4,255.5 439.9,255.4 440.4,255.2 440.9,255.4 441.4,255.7 441.9,256.1 442.4,256.0 442.8,257.0 443.3,256.2 443.8,256.3 444.3,256.3 444.8,256.5 445.3,256.4 445.8,256.7 446.3,257.5 446.8,257.3 447.3,257.4 447.8,257.7 448.3,258.1 448.7,258.1 449.2,258.3 449.7,258.0 450.2,258.3 450.7,258.2 451.2,258.6 451.7,258.5 452.2,258.8 452.6,259.0 453.1,259.2 453.6,259.3 454.1,259.4 454.6,260.1 455.1,259.7 455.6,259.6 456.0,260.2 456.5,259.9 457.0,260.1 457.5,260.6 458.0,260.2 458.5,259.8 459.0,261.1 459.4,261.5 459.9,260.7 460.4,261.1 460.9,261.8 461.4,261.1 461.9,261.6 462.4,261.6 462.8,262.1 463.3,261.6 463.8,262.8 464.3,262.6 464.8,262.9 465.3,262.8 465.8,262.3 466.2,263.1 466.7,262.9 467.2,263.5 467.7,263.3 468.2,263.7 468.7,263.8 469.2,264.3 469.6,264.5 470.1,264.0 470.6,264.5 471.1,265.1 471.6,264.9 472.1,264.6 472.6,265.0 473.0,265.0 473.5,265.6 474.0,265.4 474.5,265.7 475.0,266.5 475.5,265.3 476.0,265.6 476.4,265.4 476.9,265.6 477.4,266.6 477.9,266.5 478.4,267.2 478.9,266.0 479.4,266.5 479.8,267.5 480.3,267.4 480.8,267.5 481.3,267.6 481.8,267.4 482.3,267.6 482.8,267.7 483.3,268.1 483.9,267.9 484.4,268.2 484.9,268.7 485.4,267.9 485.9,268.2 486.4,268.8 486.9,268.6 487.4,268.7 487.9,269.7 488.4,269.2 488.9,269.0 489.5,269.7 490.0,270.3 490.5,269.1 491.0,269.3 491.5,269.7 492.0,269.5 492.5,270.8 493.0,270.2 493.5,269.9 494.0,270.4 494.6,269.9 495.1,270.1 495.6,270.5 496.1,271.5 496.6,269.7 497.1,270.9 497.6,271.3 498.1,271.2 498.6,271.7 499.1,271.2 499.7,271.2 500.2,271.1 500.7,270.9 501.2,272.0 501.7,270.9 502.2,271.4 502.7,271.3 503.2,271.3 503.8,270.8 504.3,271.6 504.8,271.9 505.3,272.0 505.8,272.4 506.3,272.0 506.8,271.9 507.4,272.4 507.9,272.6 508.4,272.0 508.9,271.8 509.4,272.1 509.9,273.0 510.5,273.1 511.0,272.3 511.5,272.8 512.0,273.2 512.5,273.5 513.0,272.6 513.5,272.8 514.0,273.6 514.6,274.2 515.1,273.8 515.6,272.5 516.1,273.3 516.6,273.0 517.1,273.1 517.6,272.8 518.1,272.9 518.6,273.2 519.1,274.1 519.7,273.6 520.2,273.5 520.7,273.3 521.2,273.0 521.7,273.3 522.2,274.0 522.7,273.8 523.2,274.4 523.7,273.6 524.2,273.5 524.8,272.8 525.3,273.8 525.8,272.9 526.3,274.4 526.8,273.5 527.3,273.8 527.8,273.2 528.3,273.6 528.8,273.5 529.3,274.5 529.9,274.1 530.4,273.5 530.9,273.2 531.4,274.1 531.9,273.9 532.4,273.7 532.9,274.5 533.4,274.2 533.9,274.4 534.4,274.1 534.9,274.1 535.5,274.2 536.0,273.7 536.5,274.8 537.0,274.7 537.5,273.7 538.0,274.7 538.5,275.2 539.0,274.8 539.5,275.3 540.0,274.6 540.6,274.8 541.1,274.2 541.6,274.4 542.1,274.0 542.6,274.5 543.1,275.0 543.6,275.2 544.1,275.6 544.6,275.1 545.1,274.5 545.6,275.3 546.1,275.0 546.6,276.0 547.1,276.1 547.5,275.6 548.0,274.6 548.5,274.9 549.1,275.3 549.6,274.8 550.1,275.5 550.6,275.6 551.1,275.7 551.7,275.4 552.2,274.8 552.8,274.9 553.3,275.2 553.7,276.0 554.2,276.2 554.7,275.9 555.1,275.6 555.6,275.7 556.1,275.8 556.6,276.1 557.1,275.9 557.6,274.6 558.1,275.9 558.6,275.6 559.1,275.2 559.6,275.7 560.1,275.6 560.6,275.4 561.2,274.6 561.7,275.5 562.2,275.8 562.7,275.5 563.3,274.6 563.8,275.8 564.3,275.9 564.9,275.6 565.4,275.7 565.9,275.3 566.4,275.1 566.8,275.8 567.3,275.3 567.8,275.5 568.3,277.1 568.8,275.8 569.3,275.5 569.8,274.6 570.3,275.4 570.8,275.7 571.3,274.9 571.8,275.2 572.3,274.1 572.8,275.5 573.3,274.9 573.9,275.5 574.4,275.9 574.9,275.1 575.4,275.7 575.9,275.3 576.5,275.0 577.0,275.0 577.5,274.7 578.1,275.8 578.6,275.6 579.2,274.7 579.7,275.6 580.2,274.9 580.7,274.5 581.1,275.9 581.6,274.7 582.1,275.9 582.6,275.5 583.1,275.9 583.6,275.7 584.0,276.1 584.5,275.7 585.0,275.9 585.5,275.8 586.0,276.2 586.5,275.6 587.0,276.3 587.5,276.6 588.0,276.0 588.5,276.2 589.0,275.9 589.6,276.0 590.1,276.4 590.6,276.2 591.1,276.0 591.7,276.4 592.2,276.6 592.7,276.7 593.3,277.0 593.8,275.9 594.4,277.4 595.0,276.8 595.5,276.6 596.1,276.8 596.6,277.3 597.0,277.5 597.5,277.0 597.9,277.3 598.4,276.6 598.9,277.4 599.3,277.4 599.8,277.3 600.3,277.9 600.8,278.4 601.3,278.1 601.8,277.4 602.3,278.5 602.8,277.7 603.3,277.9 603.8,277.8 604.3,278.3 604.8,278.4 605.3,278.3 605.8,278.2 606.3,278.3 606.8,278.3 607.3,278.9 607.8,278.3 608.3,278.6 608.9,278.6 609.4,278.5 609.9,278.7 610.4,278.3 610.9,279.2 611.4,279.3 611.9,279.0 612.5,279.9 613.0,278.9 613.5,279.5 614.0,279.6 614.5,279.2 615.0,279.3 615.5,279.9 616.0,279.6 616.5,279.7 617.0,280.3 617.5,279.8 618.0,279.0 618.5,279.4 619.1,280.2 619.6,279.8 620.1,279.4 620.7,279.0 621.2,280.1 621.7,280.7 622.3,279.4 622.8,279.0 623.3,280.4 623.9,279.9 624.4,280.0 625.0,280.0 625.5,279.8 626.0,280.5 626.6,280.7 627.1,280.5 627.7,280.1 628.2,280.9 628.7,280.4 629.2,280.7 629.7,280.0 630.3,280.8 630.8,280.9 631.3,281.2 631.8,280.6 632.2,280.8 632.7,280.3 633.2,281.1 633.6,281.1 634.1,281.2 634.5,280.5 635.0,280.2 635.4,280.8 635.8,280.7 636.2,280.5 636.6,281.2 637.0,281.3 637.7,281.1 638.4,281.5 639.1,281.3 639.7,280.7 640.3,281.0 640.8,281.1 641.3,281.6 641.8,281.8 642.3,281.5 642.7,282.0 643.2,281.3 643.6,281.6 644.0,282.4 644.5,282.0 644.9,282.3 645.3,281.1 645.8,281.2 646.2,281.6 646.7,282.5 647.2,282.9 647.7,281.9 648.2,281.7 648.7,281.7 649.2,281.8 649.7,282.6 650.2,282.2 650.7,283.3 651.2,282.7 651.7,282.1 652.2,282.5 652.7,282.4 653.2,282.9 653.7,282.9 654.2,282.3 654.7,283.0 655.2,282.8 655.8,282.6 656.3,282.8 656.8,283.0 657.4,282.6 657.9,282.4 658.4,283.4 658.9,282.8 659.5,282.6 660.0,283.1 660.6,282.3 661.2,283.0 661.8,282.4 662.4,282.9 663.0,282.3 663.6,282.9 664.2,283.7 664.8,283.2 665.3,282.8 665.9,284.2 666.4,283.1 666.9,284.2 667.4,283.3 667.9,282.9 668.3,284.4 668.7,283.4 669.1,284.0 669.4,284.2 669.7,283.7" fill="none" stroke="#e00000" stroke-width="4.0" stroke-linejoin="round" stroke-linecap="round"/>
<polyline points="21.0,372.6 21.4,372.8 22.0,373.0 22.6,373.0 23.0,372.9 23.4,372.7 23.9,372.3 24.6,371.6 24.8,371.3 25.1,371.1 25.4,370.8 25.7,370.4 26.0,370.1 26.3,369.7 26.6,369.3 27.0,368.9 27.3,368.5 27.7,368.1 28.0,367.6 28.4,367.1 28.7,366.6 29.1,366.1 29.4,365.6 29.6,365.2 29.9,364.8 30.1,364.5 30.3,364.1 30.6,363.6 30.8,363.2 31.0,362.8 31.3,362.4 31.5,361.9 31.8,361.5 32.0,361.0 32.2,360.6 32.5,360.1 32.7,359.6 32.9,359.1 33.2,358.6 33.4,358.1 33.6,357.6 33.9,357.0 34.1,356.5 34.3,356.0 34.5,355.4 34.7,355.0 34.8,354.5 35.0,354.1 35.1,353.7 35.3,353.3 35.4,352.8 35.6,352.4 35.8,351.9 35.9,351.5 36.1,351.0 36.2,350.5 36.4,350.1 36.5,349.6 36.7,349.1 36.8,348.6 37.0,348.2 37.1,347.7 37.2,347.2 37.4,346.6 37.5,346.1 37.6,345.6 37.8,345.1 37.9,344.5 38.0,344.0 38.1,343.4 38.3,342.9 38.4,342.3 38.5,341.7 38.6,341.1 38.7,340.7 38.7,340.2 38.8,339.8 38.9,339.4 39.0,338.9 39.0,338.4 39.1,338.0 39.1,337.5 39.2,337.0 39.3,336.6 39.3,336.1 39.4,335.6 39.4,335.1 39.5,334.6 39.5,334.1 39.6,333.6 39.6,333.1 39.7,332.6 39.7,332.1 39.8,331.5 39.8,331.0 39.9,330.5 39.9,330.0 40.0,329.5 40.0,329.0 40.1,328.4 40.1,327.9 40.1,327.4 40.2,326.9 40.2,326.3 40.3,325.8 40.3,325.3 40.4,324.8 40.4,324.3 40.4,323.7 40.5,323.2 40.5,322.7 40.6,322.2 40.6,321.7 40.7,321.2 40.7,320.7 40.7,320.2 40.8,319.7 40.8,319.2 40.9,318.7 40.9,318.3 41.0,317.8 41.0,317.3 41.0,316.9 41.1,316.4 41.1,315.9 41.2,315.5 41.2,315.0 41.3,314.5 41.3,314.1 41.3,313.6 41.4,313.2 41.4,312.7 41.5,312.2 41.5,311.8 41.5,311.3 41.6,310.8 41.6,310.4 41.6,309.9 41.7,309.4 41.7,308.9 41.8,308.4 41.8,307.9 41.8,307.4 41.9,306.9 41.9,306.4 41.9,305.9 42.0,305.4 42.0,304.8 42.1,304.3 42.1,303.7 42.1,303.2 42.2,302.6 42.2,302.0 42.2,301.4 42.3,300.8 42.3,300.2 42.3,299.8 42.3,299.3 42.4,298.9 42.4,298.5 42.4,298.0 42.4,297.6 42.5,297.1 42.5,296.7 42.5,296.2 42.5,295.7 42.6,295.3 42.6,294.8 42.6,294.3 42.6,293.8 42.6,293.3 42.7,292.8 42.7,292.3 42.7,291.8 42.7,291.3 42.8,290.8 42.8,290.3 42.8,289.8 42.8,289.3 42.8,288.8 42.9,288.3 42.9,287.8 42.9,287.3 42.9,286.7 43.0,286.2 43.0,285.7 43.0,285.2 43.0,284.6 43.0,284.1 43.1,283.6 43.1,283.1 43.1,282.5 43.1,282.0 43.1,281.5 43.2,280.9 43.2,280.4 43.2,279.9 43.2,279.4 43.2,278.8 43.3,278.3 43.3,277.8 43.3,277.2 43.3,276.7 43.4,276.2 43.4,275.7 43.4,275.1 43.4,274.6 43.4,274.1 43.5,273.6 43.5,273.1 43.5,272.5 43.5,272.0 43.5,271.5 43.6,271.0 43.6,270.5 43.6,270.0 43.6,269.5 43.6,269.0 43.7,268.5 43.7,268.0 43.7,267.5 43.7,267.0 43.7,266.5 43.8,266.0 43.8,265.6 43.8,265.1 43.8,264.6 43.8,264.1 43.9,263.6 43.9,263.1 43.9,262.7 43.9,262.2 43.9,261.7 44.0,261.2 44.0,260.7 44.0,260.3 44.0,259.8 44.0,259.3 44.0,258.8 44.1,258.3 44.1,257.9 44.1,257.4 44.1,256.9 44.1,256.4 44.2,255.9 44.2,255.4 44.2,255.0 44.2,254.5 44.2,254.0 44.3,253.5 44.3,253.0 44.3,252.5 44.3,252.0 44.3,251.5 44.3,251.0 44.4,250.5 44.4,250.0 44.4,249.5 44.4,249.0 44.4,248.5 44.5,248.0 44.5,247.5 44.5,247.0 44.5,246.5 44.6,245.9 44.6,245.4 44.6,244.9 44.6,244.4 44.6,243.8 44.7,243.3 44.7,242.8 44.7,242.2 44.7,241.7 44.8,241.1 44.8,240.6 44.8,240.0 44.8,239.5 44.8,239.1 44.9,238.6 44.9,238.1 44.9,237.5 44.9,237.0 44.9,236.5 45.0,235.9 45.0,235.3 45.0,234.7 45.0,234.2 45.0,233.6 45.1,232.9 45.1,232.3 45.1,231.7 45.1,231.1 45.2,230.4 45.2,229.8 45.2,229.1 45.2,228.5 45.3,227.8 45.3,227.2 45.3,226.5 45.3,225.8 45.3,225.2 45.4,224.5 45.4,223.8 45.4,223.1 45.4,222.5 45.5,221.8 45.5,221.1 45.5,220.5 45.5,219.8 45.6,219.1 45.6,218.5 45.6,217.8 45.6,217.2 45.7,216.6 45.7,215.9 45.7,215.3 45.7,214.7 45.8,214.1 45.8,213.5 45.8,212.9 45.8,212.3 45.8,211.8 45.9,211.2 45.9,210.7 45.9,210.1 45.9,209.6 46.0,209.1 46.0,208.6 46.0,208.1 46.0,207.7 46.1,207.3 46.1,206.8 46.1,206.4 46.1,206.0 46.2,205.7 46.2,205.3 46.2,205.0 46.2,204.7 46.3,204.4 46.3,204.1 46.3,203.9 46.3,203.7 46.3,203.5 46.4,203.3 46.4,203.1 46.4,203.0 46.4,202.9 46.5,202.9 46.5,202.8 46.5,202.8 46.5,202.8 46.5,202.9 46.6,202.9 46.6,203.0 46.6,203.1 46.6,203.3 46.7,203.5 46.7,203.7 46.7,203.9 46.7,204.1 46.7,204.4 46.8,204.7 46.8,205.0 46.8,205.3 46.8,205.7 46.8,206.0 46.9,206.4 46.9,206.8 46.9,207.3 46.9,207.7 46.9,208.1 47.0,208.6 47.0,209.1 47.0,209.6 47.0,210.1 47.1,210.7 47.1,211.2 47.1,211.8 47.1,212.3 47.1,212.9 47.2,213.5 47.2,214.1 47.2,214.7 47.2,215.3 47.2,215.9 47.3,216.6 47.3,217.2 47.3,217.8 47.3,218.5 47.3,219.1 47.4,219.8 47.4,220.5 47.4,221.1 47.4,221.8 47.4,222.5 47.5,223.1 47.5,223.8 47.5,224.5 47.5,225.2 47.5,225.8 47.6,226.5 47.6,227.2 47.6,227.8 47.6,228.5 47.6,229.1 47.7,229.8 47.7,230.4 47.7,231.1 47.7,231.7 47.7,232.3 47.8,232.9 47.8,233.6 47.8,234.2 47.8,234.7 47.8,235.3 47.9,235.9 47.9,236.5 47.9,237.0 47.9,237.5 47.9,238.1 47.9,238.6 48.0,239.1 48.0,239.5 48.0,240.0 48.0,240.6 48.0,241.1 48.1,241.7 48.1,242.2 48.1,242.8 48.1,243.3 48.2,243.8 48.2,244.4 48.2,244.9 48.2,245.4 48.2,245.9 48.3,246.5 48.3,247.0 48.3,247.5 48.3,248.0 48.3,248.5 48.4,249.0 48.4,249.5 48.4,250.0 48.4,250.5 48.4,251.0 48.5,251.5 48.5,252.0 48.5,252.5 48.5,253.0 48.5,253.5 48.6,254.0 48.6,254.5 48.6,255.0 48.6,255.4 48.6,255.9 48.7,256.4 48.7,256.9 48.7,257.4 48.7,257.9 48.7,258.3 48.8,258.8 48.8,259.3 48.8,259.8 48.8,260.3 48.8,260.7 48.8,261.2 48.9,261.7 48.9,262.2 48.9,262.7 48.9,263.2 48.9,263.6 49.0,264.1 49.0,264.6 49.0,265.1 49.0,265.6 49.0,266.1 49.1,266.5 49.1,267.0 49.1,267.5 49.1,268.0 49.1,268.5 49.2,269.0 49.2,269.5 49.2,270.0 49.2,270.5 49.2,271.0 49.3,271.5 49.3,272.0 49.3,272.5 49.3,273.1 49.3,273.6 49.4,274.1 49.4,274.6 49.4,275.2 49.4,275.7 49.4,276.2 49.5,276.8 49.5,277.3 49.5,277.9 49.5,278.4 49.6,278.9 49.6,279.5 49.6,280.0 49.6,280.6 49.6,281.1 49.7,281.6 49.7,282.2 49.7,282.7 49.7,283.3 49.7,283.8 49.8,284.3 49.8,284.9 49.8,285.4 49.8,285.9 49.8,286.5 49.9,287.0 49.9,287.5 49.9,288.0 49.9,288.6 49.9,289.1 50.0,289.6 50.0,290.1 50.0,290.6 50.0,291.1 50.0,291.6 50.1,292.1 50.1,292.6 50.1,293.1 50.1,293.6 50.1,294.0 50.2,294.5 50.2,295.0 50.2,295.4 50.2,295.9 50.2,296.3 50.3,296.8 50.3,297.2 50.3,297.6 50.3,298.0 50.3,298.4 50.3,298.8 50.4,299.2 50.4,299.6 50.4,300.0 50.4,300.7 50.5,301.4 50.5,302.1 50.5,302.7 50.5,303.3 50.6,303.9 50.6,304.4 50.6,304.9 50.6,305.4 50.7,305.9 50.7,306.4 50.7,306.8 50.7,307.3 50.7,307.7 50.8,308.1 50.8,308.5 50.8,309.0 50.8,309.4 50.9,309.8 50.9,310.2 50.9,310.6 50.9,311.0 51.0,311.5 51.0,311.9 51.0,312.4 51.1,312.9 51.1,313.4 51.1,313.9 51.2,314.4 51.2,315.0 51.2,315.4 51.3,315.9 51.3,316.3 51.3,316.8 51.4,317.3 51.4,317.7 51.4,318.2 51.5,318.7 51.5,319.2 51.5,319.7 51.6,320.2 51.6,320.7 51.6,321.2 51.7,321.7 51.7,322.2 51.7,322.7 51.8,323.2 51.8,323.7 51.9,324.3 51.9,324.8 51.9,325.3 52.0,325.8 52.0,326.4 52.1,326.9 52.1,327.4 52.2,327.9 52.2,328.4 52.3,329.0 52.3,329.5 52.4,330.0 52.4,330.5 52.5,331.0 52.5,331.5 52.6,332.0 52.6,332.5 52.7,333.0 52.7,333.5 52.8,334.0 52.8,334.5 52.9,335.0 53.0,335.5 53.0,336.0 53.1,336.6 53.2,337.1 53.2,337.7 53.3,338.2 53.4,338.7 53.5,339.3 53.5,339.8 53.6,340.4 53.7,340.9 53.8,341.5 53.8,342.0 53.9,342.6 54.0,343.1 54.1,343.7 54.2,344.2 54.3,344.7 54.3,345.3 54.4,345.8 54.5,346.3 54.6,346.8 54.7,347.3 54.8,347.8 54.9,348.3 55.0,348.8 55.1,349.3 55.1,349.7 55.2,350.2 55.3,350.6 55.4,351.1 55.5,351.5 55.6,351.9 55.7,352.3 55.8,352.7 55.9,353.0 56.0,353.4 56.2,354.2 56.5,354.9 56.7,355.5 57.0,356.1 57.2,356.6 57.5,357.1 57.8,357.6 58.0,358.0 58.3,358.4 58.6,358.7 58.9,359.1 59.1,359.4 59.4,359.7 59.6,360.0 59.9,360.2 60.1,360.5 60.6,361.1 61.1,361.4 61.5,361.5 62.0,361.9 62.4,362.1 62.9,362.1 63.3,362.1 63.8,362.0 64.2,361.8 64.7,361.6 65.1,361.5 65.6,361.2 66.1,361.0 66.5,360.5 66.8,360.1 67.1,359.9 67.4,359.4 67.7,359.0 68.0,358.6 68.3,358.0 68.6,357.4 68.9,357.0 69.2,356.4 69.5,356.1 69.7,355.5 70.0,355.1 70.2,354.7 70.5,354.0 70.7,353.6 71.0,353.0 71.2,352.5 71.4,352.0 71.7,351.6 71.9,351.2 72.1,350.8 72.3,350.5 72.9,349.7 73.4,349.6 73.9,349.2 74.4,349.2 74.7,349.6 74.9,350.0 75.2,350.5 75.5,351.0 75.7,351.5 76.0,352.1 76.2,352.6 76.5,353.0 76.8,353.7 77.0,354.2 77.3,354.6 77.6,355.0 77.9,355.1 78.1,354.8 78.4,354.6 78.6,354.1 78.8,353.6 79.1,353.0 79.3,352.4 79.6,351.7 79.8,351.0 79.9,350.6 80.1,350.1 80.2,349.6 80.4,349.1 80.5,348.6 80.7,347.9 80.8,347.4 81.0,346.8 81.1,346.3 81.3,345.8 81.4,345.3 81.5,344.8 81.7,344.4 81.8,344.1 82.1,343.2 82.4,342.6 82.6,342.1 82.9,341.7 83.1,341.2 83.4,341.1 83.6,341.4 83.9,341.7 84.1,341.9 84.4,342.4 84.7,343.0 84.9,343.8 85.2,344.5 85.3,344.9 85.4,345.3 85.5,345.7 85.7,346.2 85.8,346.7 85.9,347.2 86.0,347.7 86.2,348.2 86.3,348.8 86.4,349.4 86.5,349.9 86.7,350.4 86.8,351.0 86.9,351.6 87.0,352.0 87.2,352.5 87.3,353.0 87.5,353.6 87.6,354.1 87.8,354.7 88.0,355.2 88.1,355.7 88.3,356.3 88.5,356.9 88.6,357.3 88.8,357.8 89.0,358.3 89.2,358.7 89.3,359.2 89.5,359.6 89.7,360.0 90.0,360.7 90.3,361.2 90.7,361.7 91.0,362.0 91.3,362.4 91.7,362.8 92.1,363.1 92.5,363.2 93.0,363.5 93.4,363.7 94.0,363.9 94.5,364.1 95.0,364.2 95.6,364.3 96.1,364.4 96.6,364.2 97.1,364.4 97.6,364.2 98.1,364.0 98.6,363.9 99.1,363.8 99.5,363.5 100.0,363.2 100.5,363.0 100.9,362.7 101.3,362.4 101.6,361.9 102.0,361.6 102.4,361.1 102.7,360.6 103.1,360.2 103.5,359.7 103.8,359.3 104.2,359.1 104.7,358.6 105.1,358.1 105.6,357.5 106.0,357.2 106.4,356.9 106.9,356.2 107.3,356.4 107.7,356.3 108.1,356.4 108.4,356.7 108.8,356.9 109.1,357.5 109.5,357.9 109.8,358.5 110.1,359.0 110.5,359.5 110.8,359.9 111.1,360.3 111.4,360.8 111.6,361.3 111.9,361.7 112.2,362.3 112.5,362.7 112.8,363.2 113.2,363.4 113.5,363.7 113.9,364.0 114.3,364.4 114.8,364.5 115.2,364.9 115.7,364.8 116.2,365.0 116.8,365.3 117.5,365.4 117.9,365.6 118.3,365.7 118.8,365.6 119.2,365.4 119.7,365.4 120.2,366.1 120.8,365.6 121.3,365.7 121.8,365.7 122.4,365.6 122.9,365.6 123.4,365.5 124.0,365.5 124.5,365.2 125.0,366.0 125.5,365.6 126.0,365.3 126.6,365.7 127.1,365.7 127.6,365.3 128.2,365.5 128.7,365.9 129.2,365.7 129.8,365.6 130.3,365.7 130.8,365.4 131.3,365.4 131.8,365.6 132.3,365.3 132.7,365.2 133.3,365.2 133.8,364.9 134.4,364.5 134.9,364.6 135.4,364.2 135.9,364.2 136.3,363.8 136.8,363.4 137.3,363.6 137.7,363.2 138.2,363.1 138.7,363.2 139.2,363.0 139.6,363.5 140.1,363.5 140.5,363.8 141.0,363.9 141.4,364.3 141.9,364.5 142.4,364.8 143.0,365.0 143.4,365.0 143.8,365.0 144.2,365.2 144.7,365.1 145.1,365.2 145.5,365.5 146.0,365.4 146.4,365.3 146.9,365.6 147.5,365.8 148.0,366.1 148.6,365.8 149.3,365.8 150.0,366.0 150.4,366.0 150.8,366.1 151.2,366.0 151.6,366.1 152.0,366.0 152.5,366.3 152.9,366.2 153.3,366.3 153.8,366.1 154.2,365.9 154.7,366.2 155.2,366.2 155.7,366.4 156.2,366.4 156.7,366.2 157.2,366.2 157.8,366.0 158.3,366.2 158.9,366.3 159.5,366.2 160.1,366.0 160.7,366.5 161.4,366.0 162.0,366.6 162.7,366.5 163.4,366.5 163.8,366.0 164.2,366.3 164.6,365.9 165.1,366.1 165.5,365.9 166.0,366.0 166.4,366.1 166.9,366.4 167.3,366.4 167.8,366.1 168.3,366.1 168.8,366.0 169.3,365.9 169.8,365.8 170.3,366.1 170.8,366.2 171.3,366.0 171.8,366.2 172.3,365.9 172.8,365.9 173.4,366.0 173.9,366.3 174.4,366.0 175.0,366.2 175.5,366.0 176.0,365.8 176.6,365.6 177.1,365.9 177.7,365.8 178.2,366.2 178.7,366.1 179.3,365.6 179.8,366.1 180.4,366.0 180.9,365.4 181.5,365.7 182.0,365.9 182.5,365.6 183.1,365.7 183.6,365.9 184.1,365.9 184.6,365.9 185.2,365.9 185.7,365.6 186.2,366.2 186.7,365.8 187.2,366.1 187.7,365.6 188.2,365.8 188.7,365.7 189.2,365.6 189.7,365.6 190.2,365.6 190.8,365.7 191.3,365.5 191.8,365.5 192.3,365.5 192.8,365.7 193.3,365.4 193.8,365.4 194.3,365.3 194.8,364.9 195.3,365.1 195.8,365.0 196.3,364.9 196.8,365.0 197.3,364.8 197.8,365.1 198.3,364.9 198.9,365.2 199.4,365.0 199.9,364.7 200.4,364.9 200.9,364.9 201.4,364.7 201.9,364.7 202.4,364.6 202.9,364.6 203.4,364.7 203.9,364.6 204.4,364.8 204.9,364.2 205.4,364.4 205.9,364.5 206.4,364.8 207.0,364.7 207.5,364.6 208.0,364.6 208.5,364.7 209.0,364.5 209.5,364.3 210.0,364.3 210.5,364.2 211.0,364.2 211.5,364.3 212.0,364.1 212.5,364.2 213.0,364.1 213.6,363.9 214.1,363.9 214.6,364.2 215.1,364.1 215.6,364.2 216.1,364.0 216.6,364.0 217.1,364.1 217.6,363.9 218.1,364.2 218.6,364.1 219.1,364.0 219.7,363.7 220.2,363.8 220.7,363.9 221.2,364.1 221.7,363.8 222.2,363.8 222.7,363.9 223.2,363.8 223.7,363.7 224.2,363.5 224.7,364.0 225.3,363.7 225.8,363.6 226.3,363.7 226.8,363.4 227.3,363.3 227.8,363.3 228.3,363.7 228.8,363.3 229.3,363.6 229.8,363.3 230.3,363.2 230.9,363.4 231.4,363.4 231.9,363.3 232.4,363.8 232.9,363.5 233.4,363.3 233.9,363.5 234.4,363.3 234.9,363.6 235.4,363.0 235.9,363.5 236.5,363.1 237.0,363.1 237.5,363.2 238.0,363.0 238.5,362.8 239.0,363.0 239.5,363.0 240.0,362.8 240.5,363.2 241.0,362.9 241.5,362.9 242.0,362.9 242.6,362.9 243.1,363.1 243.6,362.5 244.1,362.8 244.6,362.9 245.1,362.8 245.6,362.7 246.1,362.5 246.6,362.7 247.1,362.6 247.6,362.6 248.2,362.4 248.7,362.5 249.2,362.5 249.7,362.2 250.2,362.7 250.7,362.4 251.2,362.2 251.7,362.4 252.2,362.4 252.7,362.3 253.2,362.1 253.7,362.3 254.3,362.0 254.8,362.0 255.3,362.5 255.8,362.6 256.3,362.6 256.8,362.6 257.3,362.4 257.8,362.0 258.3,362.1 258.8,362.4 259.4,362.0 259.9,362.1 260.4,362.1 260.9,362.2 261.4,361.8 262.0,362.1 262.5,362.2 263.0,361.7 263.5,362.3 264.0,362.2 264.6,361.9 265.1,362.4 265.6,362.1 266.1,362.2 266.6,362.4 267.2,361.5 267.7,362.1 268.2,362.3 268.7,362.3 269.2,362.0 269.8,362.0 270.3,361.9 270.8,362.0 271.3,361.9 271.8,361.6 272.3,361.9 272.8,361.8 273.3,361.9 273.8,362.0 274.4,361.9 274.9,362.1 275.4,362.0 275.8,362.0 276.3,361.9 276.8,362.0 277.3,362.0 277.8,362.0 278.3,362.3 278.8,362.1 279.3,361.9 279.7,361.6 280.2,361.7 280.8,361.4 281.3,362.2 281.9,362.2 282.5,361.9 283.0,361.9 283.6,362.0 284.2,362.0 284.8,361.6 285.3,361.9 285.9,361.8 286.5,361.6 287.1,362.2 287.7,362.0 288.2,361.7 288.8,361.8 289.4,361.7 289.9,361.7 290.5,361.7 291.0,362.0 291.6,361.8 292.1,361.7 292.7,361.6 293.2,361.8 293.7,361.6 294.2,361.4 294.7,361.7 295.2,362.0 295.7,361.6 296.1,361.7 296.6,361.6 297.0,361.9 297.4,361.7 297.9,361.4 298.3,362.0 298.6,361.6 299.0,361.4 299.4,361.5 299.7,361.6 300.0,361.8 301.2,361.5 301.9,361.5 302.3,361.8 302.4,361.9 302.5,361.6 302.7,361.7 303.2,361.7 304.0,361.5 304.4,361.4 304.8,361.7 305.2,361.3 305.7,361.1 306.2,361.5 306.7,361.6 307.2,361.5 307.8,361.1 308.4,361.2 309.0,361.0 309.6,361.0 310.2,360.6 310.8,360.8 311.4,361.1 312.0,360.7 312.6,361.1 313.2,360.7 313.7,360.3 314.3,360.7 314.8,360.4 315.3,360.5 315.7,360.4 316.2,360.3 316.6,360.2 316.9,360.0 317.9,359.8 318.6,359.6 319.1,359.4 319.4,358.9 319.7,358.7 320.0,358.6 320.4,358.7 320.8,358.6 321.1,358.9 321.3,359.2 321.6,359.7 321.9,359.9 322.4,360.4 323.0,360.6 323.9,360.9 324.2,360.9 324.6,360.9 325.0,361.2 325.4,361.2 325.9,361.0 326.4,361.0 326.8,361.1 327.3,361.0 327.9,361.1 328.4,361.2 329.0,361.1 329.5,360.7 330.1,361.0 330.6,360.8 331.2,361.1 331.8,360.9 332.4,361.0 332.9,360.9 333.5,361.1 334.1,361.2 334.6,360.9 335.2,360.6 335.7,360.9 336.2,361.3 336.7,360.8 337.2,360.9 337.8,361.4 338.3,361.3 338.8,361.1 339.3,361.0 339.8,360.7 340.3,361.3 340.9,361.2 341.4,360.7 341.9,361.1 342.4,361.1 342.9,361.1 343.4,361.0 343.9,361.6 344.4,361.1 344.9,361.5 345.4,361.4 345.9,361.3 346.4,361.5 346.9,361.6 347.4,361.4 347.9,361.5 348.4,361.8 348.9,361.8 349.4,361.8 349.9,361.7 350.4,361.7 350.9,362.2 351.5,362.3 352.0,362.3 352.5,362.4 353.0,362.4 353.5,362.6 354.0,362.8 354.5,362.9 355.0,362.8 355.5,363.1 356.0,363.0 356.5,363.2 357.0,363.2 357.6,363.1 358.1,363.4 358.6,363.7 359.1,363.6 359.6,363.9 360.1,363.8 360.6,364.0 361.1,364.0 361.6,364.3 362.1,364.1 362.6,364.2 363.2,364.5 363.7,364.6 364.2,364.2 364.7,364.7 365.2,364.3 365.7,364.4 366.2,364.5 366.7,364.8 367.2,364.5 367.7,364.9 368.2,364.9 368.8,364.8 369.3,365.0 369.8,365.3 370.3,365.2 370.8,364.9 371.3,365.1 371.8,365.0 372.3,365.1 372.8,365.1 373.3,365.3 373.8,365.1 374.3,365.1 374.8,365.4 375.3,365.5 375.7,365.7 376.2,365.6 376.7,365.4 377.2,365.4 377.7,365.7 378.2,365.7 378.7,365.8 379.2,366.0 379.7,365.4 380.2,365.7 380.7,365.9 381.2,365.7 381.8,366.2 382.3,365.9 382.8,366.1 383.4,366.0 383.9,366.1 384.4,366.1 384.9,366.2 385.4,365.9 385.9,365.8 386.5,366.2 387.0,366.4 387.6,366.2 388.2,366.3 388.7,366.5 389.3,366.5 389.9,366.3 390.5,366.5 391.0,366.5 391.6,366.5 392.2,366.6 392.7,366.7 393.2,366.6 393.8,366.7 394.3,366.7 394.7,366.6 395.2,366.6 395.7,366.8 396.1,366.8 396.5,367.0 396.9,367.2 397.2,366.6 397.5,366.6 398.7,366.6 399.3,366.1 399.5,365.8 399.5,365.4 399.8,365.4 400.2,365.3 400.6,365.8 400.9,366.0 401.4,366.5 402.0,366.8 402.4,366.6 402.8,366.8 403.2,367.2 403.6,366.6 404.1,366.9 404.6,366.4 405.2,366.9 405.9,366.8 406.8,366.7 407.2,366.7 407.6,367.2 408.0,367.1 408.4,366.8 408.9,367.2 409.4,367.0 409.9,367.0 410.4,367.3 410.9,367.2 411.4,367.4 411.9,367.5 412.5,367.3 413.0,367.5 413.6,367.6 414.2,367.3 414.7,367.7 415.3,367.8 415.8,367.5 416.4,367.7 416.9,368.0 417.5,368.0 418.0,367.8 418.5,367.9 419.0,367.9 419.5,367.8 420.0,368.0 420.4,368.4 420.9,367.8 421.3,368.1 421.8,368.0 422.3,368.4 422.7,367.9 423.2,368.4 423.6,368.4 424.1,368.2 424.6,368.3 425.0,368.4 425.5,368.7 426.0,368.5 426.6,368.7 427.1,368.7 427.7,368.5 428.3,368.5 428.9,368.5 429.5,368.9 430.2,368.9 430.6,368.8 431.0,368.5 431.4,368.6 431.9,368.8 432.3,368.6 432.7,368.4 433.2,368.4 433.6,368.8 434.1,368.9 434.6,368.8 435.0,369.0 435.5,368.5 436.0,368.4 436.5,368.8 437.0,369.0 437.4,368.7 437.9,368.9 438.5,368.9 439.0,368.8 439.5,368.7 440.0,368.8 440.5,368.9 441.0,369.0 441.6,368.8 442.1,368.7 442.7,368.7 443.2,368.8 443.7,369.0 444.3,368.8 444.9,368.9 445.4,369.1 446.0,369.0 446.5,369.4 447.1,369.1 447.7,369.1 448.3,369.4 448.8,368.6 449.4,368.7 450.0,368.9 450.4,369.0 450.9,369.2 451.3,369.1 451.8,368.9 452.2,368.7 452.6,369.1 453.0,369.0 453.5,368.8 453.9,368.8 454.3,369.2 454.7,369.0 455.1,369.1 455.6,369.0 456.0,368.9 456.4,368.9 456.8,368.9 457.3,369.0 457.7,368.9 458.1,369.1 458.6,368.8 459.0,369.0 459.4,369.0 459.9,369.1 460.3,368.4 460.8,369.1 461.2,369.0 461.7,368.9 462.2,368.9 462.7,368.9 463.2,368.7 463.6,369.6 464.2,368.9 464.7,369.0 465.2,368.7 465.7,368.9 466.3,368.5 466.8,368.9 467.4,368.8 467.9,368.9 468.5,369.0 469.1,369.2 469.7,369.0 470.3,368.7 471.0,368.9 471.6,369.1 472.3,369.3 473.0,368.5 473.6,368.7 474.3,368.8 475.1,368.9 475.8,369.1 476.2,369.3 476.6,369.1 477.0,369.3 477.3,368.9 477.7,368.8 478.1,368.7 478.6,368.9 479.0,369.1 479.4,369.0 479.8,369.4 480.2,369.0 480.6,368.8 481.1,369.1 481.5,368.6 481.9,369.2 482.4,369.1 482.8,368.8 483.2,369.1 483.7,369.1 484.1,369.3 484.6,369.0 485.0,369.0 485.5,369.1 486.0,369.1 486.4,368.9 486.9,369.3 487.4,369.3 487.8,369.0 488.3,369.0 488.8,368.9 489.3,369.0 489.8,369.0 490.2,369.1 490.7,369.3 491.2,369.4 491.7,369.0 492.2,369.0 492.7,368.9 493.2,369.2 493.7,369.3 494.2,369.0 494.7,369.2 495.2,369.0 495.7,368.9 496.3,369.1 496.8,369.4 497.3,369.2 497.8,368.9 498.3,369.0 498.8,369.2 499.4,369.6 499.9,369.0 500.4,369.8 500.9,369.5 501.5,369.5 502.0,369.5 502.5,368.8 503.1,369.3 503.6,369.4 504.1,369.4 504.7,369.6 505.2,369.3 505.7,369.2 506.3,369.4 506.8,369.4 507.3,369.5 507.9,369.3 508.4,369.4 509.0,368.8 509.5,369.4 510.1,369.6 510.6,369.4 511.1,369.4 511.7,369.6 512.2,369.4 512.8,369.4 513.3,369.8 513.9,369.8 514.4,369.1 515.0,369.4 515.5,369.6 516.0,369.7 516.6,369.3 517.1,369.4 517.7,369.7 518.2,369.8 518.8,369.4 519.3,369.5 519.9,369.5 520.4,369.8 520.9,369.7 521.5,369.7 522.0,370.0 522.6,369.8 523.1,369.7 523.6,370.0 524.2,370.0 524.7,369.9 525.3,370.0 525.8,369.8 526.3,369.3 526.7,369.6 527.2,369.7 527.7,369.7 528.2,369.9 528.6,369.8 529.1,370.1 529.6,369.9 530.1,369.9 530.6,370.0 531.1,370.1 531.5,369.7 532.0,370.1 532.5,369.8 533.0,369.4 533.5,370.2 534.0,369.9 534.5,370.1 535.0,369.6 535.5,370.0 535.9,369.7 536.4,370.3 536.9,370.2 537.4,369.9 537.9,369.4 538.4,369.9 538.9,370.0 539.4,369.9 539.9,370.0 540.4,369.9 540.9,370.1 541.4,370.0 541.9,369.8 542.4,370.1 542.9,370.1 543.5,370.0 544.0,369.9 544.5,369.8 545.0,370.5 545.5,370.5 546.0,370.2 546.5,370.0 547.0,370.2 547.5,369.9 548.0,369.9 548.5,369.7 549.0,370.0 549.6,370.0 550.1,370.3 550.6,370.2 551.1,370.0 551.6,370.1 552.1,370.1 552.6,370.1 553.1,370.2 553.7,370.4 554.2,369.9 554.7,370.2 555.2,370.2 555.7,370.4 556.2,370.2 556.7,370.1 557.3,370.4 557.8,370.5 558.3,370.1 558.8,370.5 559.3,370.8 559.8,370.2 560.3,370.4 560.8,369.8 561.4,370.4 561.9,370.2 562.4,370.4 562.9,370.3 563.4,370.4 563.9,370.6 564.4,370.6 564.9,370.6 565.5,370.3 566.0,370.4 566.5,370.4 567.0,370.3 567.5,370.3 568.0,370.5 568.5,370.6 569.0,370.4 569.5,370.2 570.0,370.7 570.6,370.4 571.1,370.8 571.6,370.6 572.1,370.6 572.6,370.8 573.1,370.6 573.6,370.3 574.1,370.6 574.6,370.2 575.1,370.6 575.6,370.6 576.1,370.7 576.6,370.6 577.1,371.0 577.6,370.6 578.1,370.5 578.6,371.2 579.1,370.6 579.6,370.8 580.1,370.6 580.6,370.6 581.0,370.7 581.5,370.6 582.0,370.7 582.5,370.6 583.0,370.6 583.5,370.5 584.0,370.6 584.6,370.3 585.1,370.8 585.6,370.2 586.1,370.7 586.7,370.7 587.2,370.6 587.7,370.8 588.2,371.1 588.8,370.8 589.3,370.7 589.8,370.9 590.4,370.7 590.9,370.4 591.4,370.7 592.0,370.9 592.5,370.8 593.0,370.9 593.6,371.0 594.1,370.5 594.6,370.6 595.2,370.7 595.7,370.6 596.2,371.0 596.8,370.7 597.3,370.7 597.8,371.2 598.4,370.6 598.9,370.7 599.5,371.2 600.0,370.9 600.5,370.9 601.1,371.0 601.6,370.8 602.1,370.9 602.7,370.9 603.2,371.2 603.7,371.0 604.3,370.7 604.8,370.7 605.3,371.1 605.9,370.7 606.4,370.7 606.9,370.9 607.5,370.7 608.0,371.1 608.5,371.4 609.0,371.4 609.6,371.1 610.1,371.3 610.6,371.1 611.2,371.1 611.7,371.2 612.2,371.1 612.7,371.0 613.2,371.1 613.8,371.1 614.3,371.2 614.8,371.3 615.3,370.9 615.8,371.0 616.3,370.9 616.8,371.5 617.3,371.3 617.8,371.2 618.4,371.0 618.9,371.4 619.4,371.0 619.9,370.9 620.4,371.1 620.9,371.5 621.3,371.2 621.8,371.1 622.3,371.1 622.8,371.4 623.3,371.1 623.8,371.1 624.3,371.4 624.7,371.4 625.2,371.3 625.7,371.4 626.2,371.4 626.6,370.9 627.1,371.3 627.6,371.2 628.0,371.3 628.5,371.3 629.0,371.4 629.4,371.5 629.9,371.2 630.3,371.2 630.8,371.3 631.2,371.4 631.6,371.1 632.1,371.4 632.5,371.5 633.0,371.3 633.4,371.1 633.8,371.6 634.2,371.7 634.7,371.5 635.1,371.7 635.5,371.7 635.9,371.4 636.3,371.4 636.7,371.9 637.4,371.6 638.0,371.4 638.7,371.8 639.4,371.4 640.0,371.5 640.7,371.8 641.3,371.8 642.0,371.5 642.6,371.8 643.3,371.8 643.9,371.2 644.5,371.7 645.2,371.9 645.8,371.8 646.4,371.5 647.0,371.9 647.6,371.7 648.2,371.9 648.8,371.9 649.4,372.0 650.0,371.7 650.6,372.2 651.2,371.8 651.8,371.9 652.3,371.8 652.9,371.9 653.5,372.0 654.0,371.9 654.6,372.1 655.1,372.1 655.6,372.0 656.2,372.0 656.7,372.1 657.2,372.3 657.7,372.3 658.2,371.9 658.7,372.3 659.2,372.3 659.7,371.9 660.1,372.3 660.6,372.5 661.0,372.1 661.5,372.0 661.9,371.8 662.4,372.3 662.8,372.2 663.2,372.3 663.6,372.5 664.0,372.1 664.4,372.3 664.8,372.7 665.2,372.6 665.5,372.3 665.9,372.1 666.2,372.5 666.6,372.5 666.9,372.5 667.2,372.3 667.5,372.6 667.8,372.3 668.1,372.3 668.4,372.3 668.6,372.5 668.9,372.5" fill="none" stroke="#000" stroke-width="4.6" stroke-linejoin="round" stroke-linecap="round"/>
<g font-family="'Liberation Serif', serif" font-weight="bold" font-size="28" fill="#000">
<text x="562" y="92.4">SiO<tspan font-size="16" dy="9.4">2</tspan><tspan dy="-9.4">-NH</tspan><tspan font-size="16" dy="9.4">2</tspan></text>
<text x="437.4" y="236.4">(<tspan font-style="italic" dx="-2.5">S</tspan><tspan dx="-3">)-DTP-COF@SiO</tspan><tspan font-size="16" dy="9.4">2</tspan></text>
<text x="364" y="343">Synthesized (<tspan font-style="italic" dx="-2">S</tspan><tspan dx="-3">)-DTP-COF</tspan></text>
</g>
</svg>
</body></html>
